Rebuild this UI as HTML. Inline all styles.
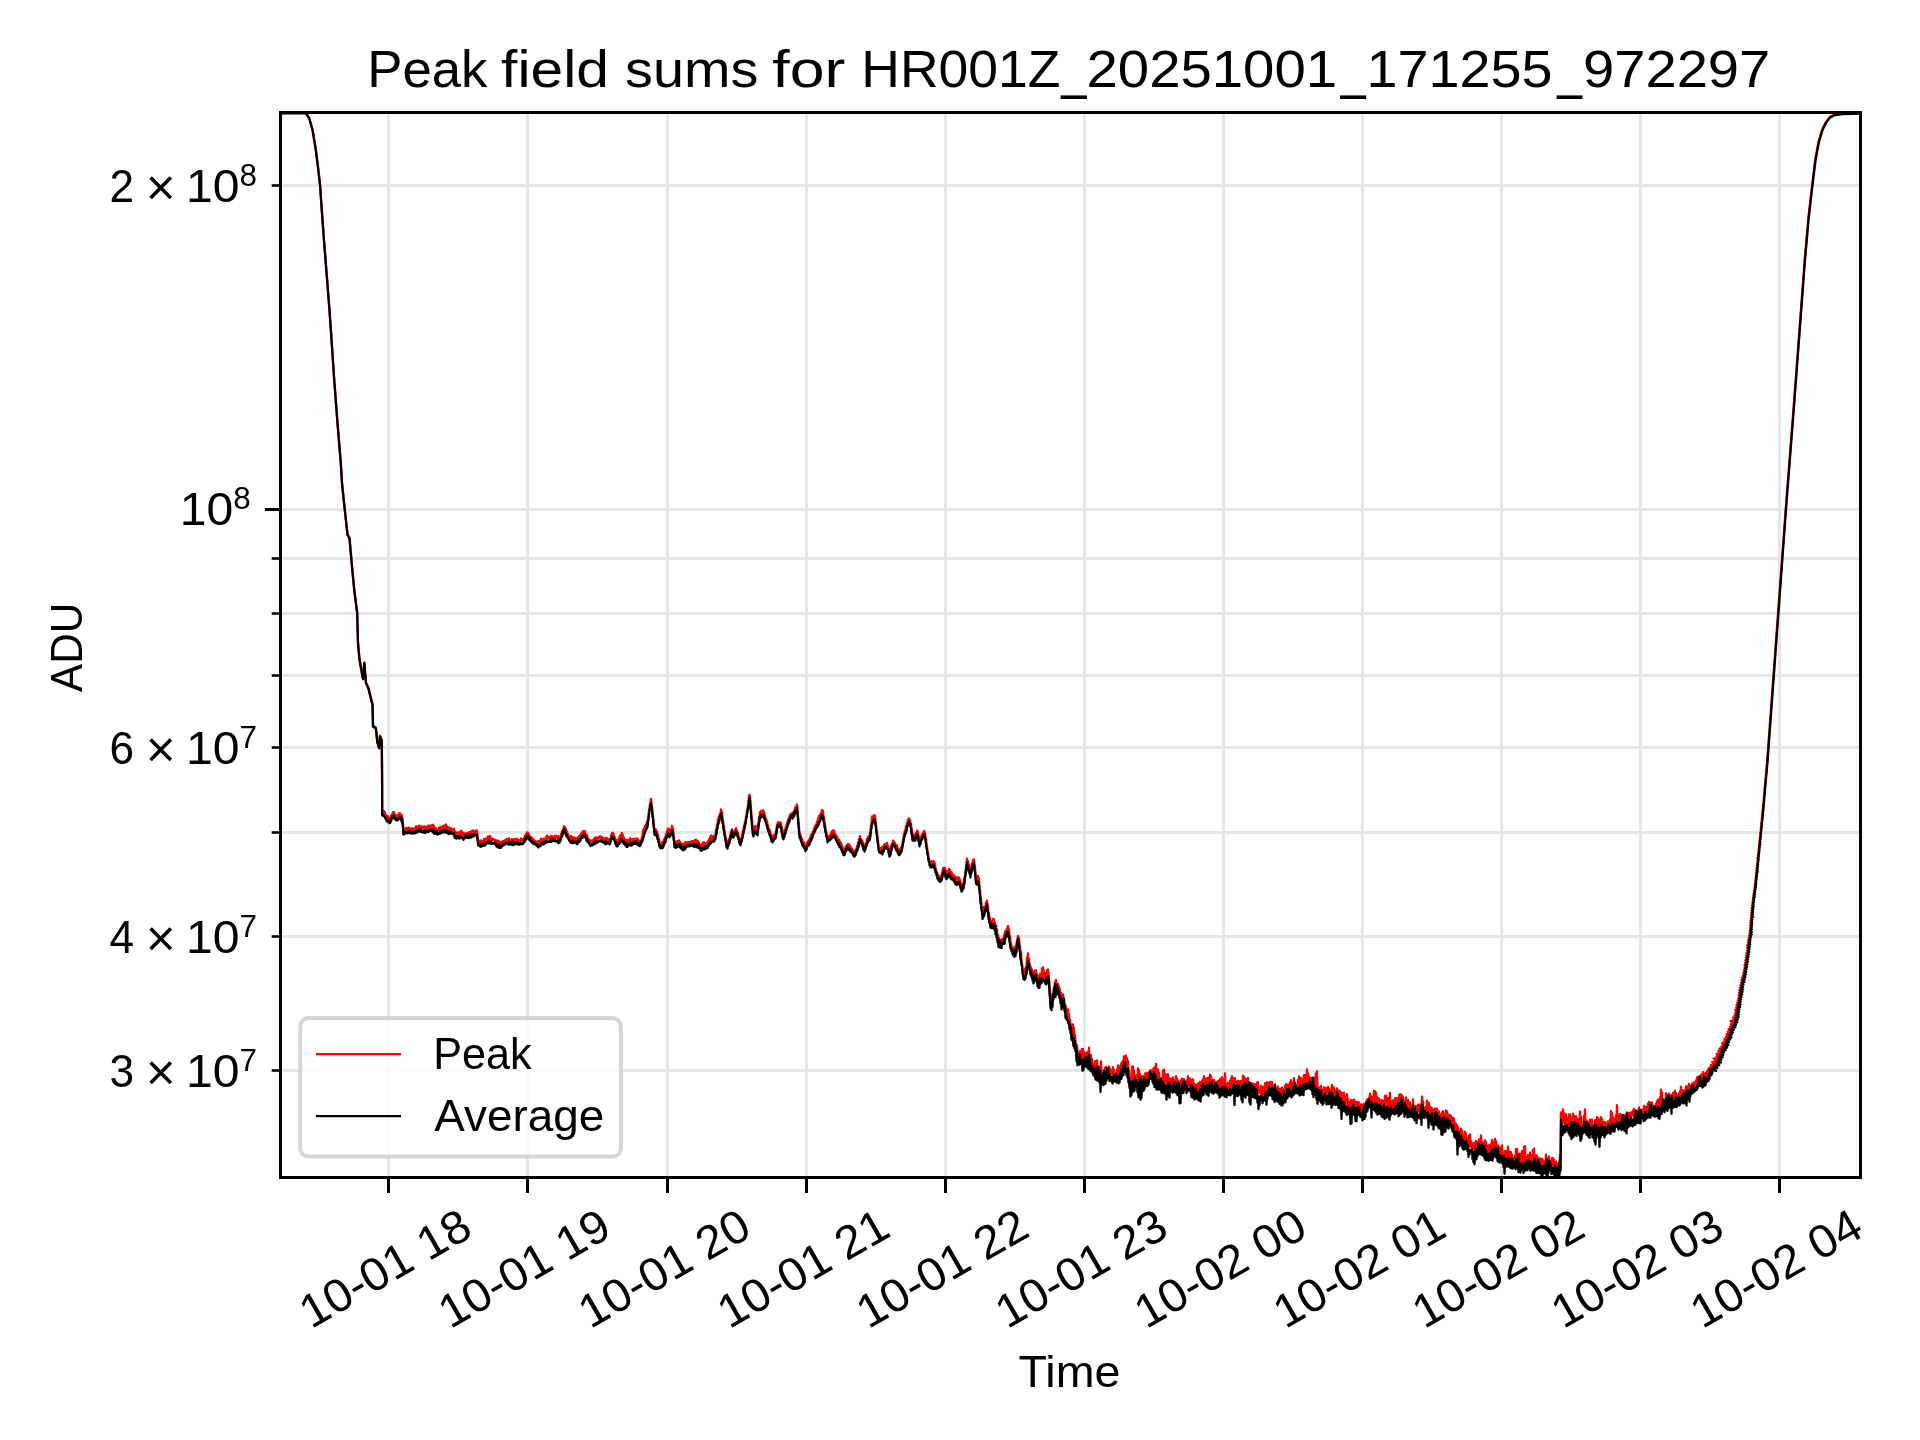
<!DOCTYPE html><html><head><meta charset="utf-8"><title>Peak field sums</title>
<style>html,body{margin:0;padding:0;background:#fff}svg{display:block;will-change:transform}text{font-family:"Liberation Sans",sans-serif;fill:#000}</style></head><body>
<svg width="1920" height="1440" viewBox="0 0 1920 1440">
<rect width="1920" height="1440" fill="#fff"/>
<defs><clipPath id="ax"><rect x="280.5" y="112.5" width="1580.0" height="1065.0"/></clipPath></defs>
<g stroke="#e6e6e6" stroke-width="3" fill="none">
<path d="M388.5 112.5V1177.5"/>
<path d="M527.5 112.5V1177.5"/>
<path d="M667.5 112.5V1177.5"/>
<path d="M806.5 112.5V1177.5"/>
<path d="M945.5 112.5V1177.5"/>
<path d="M1084.5 112.5V1177.5"/>
<path d="M1223.5 112.5V1177.5"/>
<path d="M1362.5 112.5V1177.5"/>
<path d="M1501.5 112.5V1177.5"/>
<path d="M1640.5 112.5V1177.5"/>
<path d="M1779.5 112.5V1177.5"/>
<path d="M280.5 509.5H1860.5"/>
<path d="M280.5 185.5H1860.5"/>
<path d="M280.5 558.5H1860.5"/>
<path d="M280.5 613.5H1860.5"/>
<path d="M280.5 675.5H1860.5"/>
<path d="M280.5 747.5H1860.5"/>
<path d="M280.5 832.5H1860.5"/>
<path d="M280.5 936.5H1860.5"/>
<path d="M280.5 1070.5H1860.5"/>
</g>
<g clip-path="url(#ax)" fill="none" stroke-linejoin="round" stroke-linecap="butt" stroke-width="2.3">
<path stroke="#ff0000" d="M280.5 112.7L305.8 112.7L309.2 117.7L312.5 129.4L315.8 149.4L318.3 169.4L320.0 184.4L322.0 212.7L324.2 242.7L326.7 274.4L329.2 306.1L331.2 334.4L334.2 379.4L337.5 422.7L340.8 462.7L342.0 482.7L344.7 508.6L347.5 534.3L349.5 537.6L351.7 562.6L354.2 589.3L357.2 612.5L358.0 642.5L359.5 659.2L363.0 678.4L364.3 662.5L366.0 682.5L368.3 687.4L372.5 704.1L373.0 725.8L375.8 727.4L377.5 742.3L379.2 747.3L380.0 735.7L381.8 739.8L382.1 778.9L382.2 814.4L383.0 812.6L383.5 812.8L384.0 811.1L384.5 813.6L385.0 812.6L385.5 815.4L386.0 815.2L386.5 816.2L387.0 816.1L387.5 818.3L388.0 816.3L388.5 818.4L389.0 817.7L389.5 819.9L390.0 819.0L390.5 818.7L391.0 815.6L391.5 816.2L392.0 814.8L392.5 814.2L393.0 812.2L393.5 813.5L394.0 812.3L394.5 815.5L395.0 814.2L395.5 817.1L396.0 815.3L396.5 818.5L397.0 816.2L397.5 817.6L398.0 815.1L398.5 815.7L399.0 813.3L399.5 815.2L400.0 813.1L400.5 815.4L401.0 815.2L401.5 816.3L402.0 815.3L402.5 820.3L403.0 823.8L403.5 831.6L404.0 828.8L404.5 830.2L405.0 828.8L405.5 829.9L406.0 828.1L406.5 829.1L407.0 828.3L407.5 830.0L408.0 828.0L408.5 829.8L409.0 827.7L409.5 829.9L410.0 828.6L410.5 829.7L411.0 829.0L411.5 829.7L412.0 828.1L412.5 830.5L413.0 828.6L413.5 830.2L414.0 828.9L414.5 829.7L415.0 828.2L415.5 829.7L416.0 826.3L416.5 829.1L417.0 826.8L417.5 828.5L418.0 826.5L418.5 829.0L419.0 825.7L419.5 828.1L420.0 826.0L420.5 828.0L421.0 826.8L421.5 828.1L422.0 826.7L422.5 828.0L423.0 827.2L423.5 828.4L424.0 826.2L424.5 829.4L425.0 827.7L425.5 829.4L426.0 826.9L426.5 829.1L427.0 826.6L427.5 828.5L428.0 825.6L428.5 828.3L429.0 825.7L429.5 828.4L430.0 826.0L430.5 827.8L431.0 826.2L431.5 827.7L432.0 824.9L432.5 828.2L433.0 824.9L433.5 828.9L434.0 826.1L434.5 829.4L435.0 827.9L435.5 830.5L436.0 828.4L436.5 830.4L437.0 829.8L437.5 830.4L438.0 829.1L438.5 830.0L439.0 827.7L439.5 829.8L440.0 827.5L440.5 830.3L441.0 826.9L441.5 829.9L442.0 828.0L442.5 830.4L443.0 826.2L443.5 828.8L444.0 825.4L444.5 829.1L445.0 825.9L445.5 828.5L446.0 824.3L446.5 828.7L447.0 826.2L447.5 829.8L448.0 827.5L448.5 829.2L449.0 827.4L449.5 829.5L450.0 828.5L450.5 829.4L451.0 828.3L451.5 830.0L452.0 829.2L452.5 830.8L453.0 829.4L453.5 831.3L454.0 828.8L454.5 832.6L455.0 831.6L455.5 834.3L456.0 832.3L456.5 833.9L457.0 832.8L457.5 834.8L458.0 832.3L458.5 834.4L459.0 832.7L459.5 835.7L460.0 831.9L460.5 835.2L461.0 830.7L461.5 835.8L462.0 831.6L462.5 835.5L463.0 832.9L463.5 835.0L464.0 833.3L464.5 835.6L465.0 834.1L465.5 835.5L466.0 833.4L466.5 834.3L467.0 833.0L467.5 834.0L468.0 833.5L468.5 834.8L469.0 832.2L469.5 833.5L470.0 832.3L470.5 832.8L471.0 831.8L471.5 832.9L472.0 831.0L472.5 832.5L473.0 830.4L473.5 832.0L474.0 831.4L474.5 831.7L475.0 831.1L475.5 831.9L476.0 830.5L476.5 832.3L477.0 830.5L477.5 837.3L478.0 839.0L478.5 842.9L479.0 841.0L479.5 843.0L480.0 841.0L480.5 843.1L481.0 840.4L481.5 842.7L482.0 841.1L482.5 843.6L483.0 841.1L483.5 842.6L484.0 839.0L484.5 841.8L485.0 839.0L485.5 841.0L486.0 838.7L486.5 840.6L487.0 838.2L487.5 840.5L488.0 836.4L488.5 839.9L489.0 836.7L489.5 839.1L490.0 835.8L490.5 839.4L491.0 838.0L491.5 840.4L492.0 838.4L492.5 840.2L493.0 839.1L493.5 840.1L494.0 839.3L494.5 840.8L495.0 839.9L495.5 841.9L496.0 840.6L496.5 842.0L497.0 840.4L497.5 843.1L498.0 840.7L498.5 843.3L499.0 841.2L499.5 843.4L500.0 841.9L500.5 845.1L501.0 842.5L501.5 844.3L502.0 841.9L502.5 842.4L503.0 841.0L503.5 842.7L504.0 841.0L504.5 842.0L505.0 840.3L505.5 841.6L506.0 839.7L506.5 841.0L507.0 838.9L507.5 841.2L508.0 839.1L508.5 841.6L509.0 838.4L509.5 841.2L510.0 839.8L510.5 841.2L511.0 840.2L511.5 840.9L512.0 839.0L512.5 841.5L513.0 839.5L513.5 841.9L514.0 839.4L514.5 841.5L515.0 839.0L515.5 842.1L516.0 839.5L516.5 841.6L517.0 839.0L517.5 841.0L518.0 839.7L518.5 840.4L519.0 840.2L519.5 840.4L520.0 839.7L520.5 841.0L521.0 838.5L521.5 840.9L522.0 839.3L522.5 840.4L523.0 839.1L523.5 839.0L524.0 838.2L524.5 837.9L525.0 835.7L525.5 836.5L526.0 834.2L526.5 835.1L527.0 832.3L527.5 834.1L528.0 832.5L528.5 836.3L529.0 834.5L529.5 836.6L530.0 836.2L530.5 838.3L531.0 837.3L531.5 839.1L532.0 837.7L532.5 840.2L533.0 838.9L533.5 840.3L534.0 840.1L534.5 841.9L535.0 840.9L535.5 843.1L536.0 841.7L536.5 843.9L537.0 842.5L537.5 843.6L538.0 841.2L538.5 843.4L539.0 840.9L539.5 842.7L540.0 841.4L540.5 842.2L541.0 838.7L541.5 841.6L542.0 839.3L542.5 840.4L543.0 839.6L543.5 840.7L544.0 838.6L544.5 839.8L545.0 838.6L545.5 839.2L546.0 837.5L546.5 839.1L547.0 835.6L547.5 838.6L548.0 836.3L548.5 838.7L549.0 837.4L549.5 839.1L550.0 837.2L550.5 838.9L551.0 835.8L551.5 838.1L552.0 835.8L552.5 837.7L553.0 836.7L553.5 838.3L554.0 836.7L554.5 838.0L555.0 835.8L555.5 838.0L556.0 836.0L556.5 837.6L557.0 836.0L557.5 837.9L558.0 836.0L558.5 838.6L559.0 837.4L559.5 838.8L560.0 837.3L560.5 837.9L561.0 833.9L561.5 835.3L562.0 831.2L562.5 832.2L563.0 829.4L563.5 829.8L564.0 826.2L564.5 829.2L565.0 827.2L565.5 830.7L566.0 829.0L566.5 831.5L567.0 831.4L567.5 834.2L568.0 834.1L568.5 836.8L569.0 836.5L569.5 838.3L570.0 837.5L570.5 839.5L571.0 836.0L571.5 838.7L572.0 837.1L572.5 838.9L573.0 837.5L573.5 840.0L574.0 837.7L574.5 840.4L575.0 837.8L575.5 840.8L576.0 838.9L576.5 840.4L577.0 837.9L577.5 839.4L578.0 838.0L578.5 838.1L579.0 836.3L579.5 838.1L580.0 835.1L580.5 836.5L581.0 833.7L581.5 835.9L582.0 832.2L582.5 835.0L583.0 831.2L583.5 834.0L584.0 830.8L584.5 832.6L585.0 831.1L585.5 834.4L586.0 834.3L586.5 837.2L587.0 835.3L587.5 838.4L588.0 838.1L588.5 839.7L589.0 839.5L589.5 841.8L590.0 840.2L590.5 842.0L591.0 840.7L591.5 841.3L592.0 840.6L592.5 841.1L593.0 840.2L593.5 841.0L594.0 838.9L594.5 839.7L595.0 837.6L595.5 839.8L596.0 837.7L596.5 839.1L597.0 837.9L597.5 839.4L598.0 837.4L598.5 837.9L599.0 837.3L599.5 838.2L600.0 836.2L600.5 838.1L601.0 836.9L601.5 838.8L602.0 837.0L602.5 839.1L603.0 837.6L603.5 839.1L604.0 838.3L604.5 839.8L605.0 838.9L605.5 839.5L606.0 837.8L606.5 840.0L607.0 838.1L607.5 840.5L608.0 839.0L608.5 840.2L609.0 839.7L609.5 840.8L610.0 838.8L610.5 840.0L611.0 835.1L611.5 837.0L612.0 833.2L612.5 834.1L613.0 832.8L613.5 835.4L614.0 835.6L614.5 837.3L615.0 837.7L615.5 841.0L616.0 839.7L616.5 843.3L617.0 841.7L617.5 842.5L618.0 840.0L618.5 841.6L619.0 838.0L619.5 839.8L620.0 835.3L620.5 838.2L621.0 835.5L621.5 836.7L622.0 833.0L622.5 837.8L623.0 835.1L623.5 838.3L624.0 837.8L624.5 840.2L625.0 839.5L625.5 841.8L626.0 840.4L626.5 843.2L627.0 839.9L627.5 843.1L628.0 840.5L628.5 842.4L629.0 839.8L629.5 841.6L630.0 838.2L630.5 842.0L631.0 839.2L631.5 841.4L632.0 839.2L632.5 840.3L633.0 839.6L633.5 840.7L634.0 839.0L634.5 839.8L635.0 839.1L635.5 839.7L636.0 838.8L636.5 839.9L637.0 838.5L637.5 840.0L638.0 839.3L638.5 840.4L639.0 840.7L639.5 841.3L640.0 841.2L640.5 842.7L641.0 840.3L641.5 839.9L642.0 837.0L642.5 837.0L643.0 830.1L643.5 834.1L644.0 828.5L644.5 831.2L645.0 825.8L645.5 828.2L646.0 824.5L646.5 825.6L647.0 821.6L647.5 823.3L648.0 818.3L648.5 816.4L649.0 810.1L649.5 808.5L650.0 804.0L650.5 802.9L651.0 798.8L651.5 804.1L652.0 806.6L652.5 811.7L653.0 815.8L653.5 822.6L654.0 825.4L654.5 831.3L655.0 829.8L655.5 831.3L656.0 829.5L656.5 832.7L657.0 831.5L657.5 836.1L658.0 834.9L658.5 839.0L659.0 839.2L659.5 843.6L660.0 843.6L660.5 845.1L661.0 843.6L661.5 844.4L662.0 842.3L662.5 844.2L663.0 841.8L663.5 842.9L664.0 839.3L664.5 840.3L665.0 837.6L665.5 837.8L666.0 834.5L666.5 836.0L667.0 831.1L667.5 832.2L668.0 828.6L668.5 833.1L669.0 828.9L669.5 833.7L670.0 830.9L670.5 832.2L671.0 829.6L671.5 829.6L672.0 825.9L672.5 827.2L673.0 829.6L673.5 835.8L674.0 836.9L674.5 843.5L675.0 842.6L675.5 843.1L676.0 841.8L676.5 843.7L677.0 841.5L677.5 843.3L678.0 841.0L678.5 842.6L679.0 840.3L679.5 842.7L680.0 842.0L680.5 844.4L681.0 843.5L681.5 845.8L682.0 843.8L682.5 846.2L683.0 844.4L683.5 845.5L684.0 843.7L684.5 845.2L685.0 842.2L685.5 845.1L686.0 842.6L686.5 844.6L687.0 842.6L687.5 843.9L688.0 841.9L688.5 844.1L689.0 842.1L689.5 844.4L690.0 841.8L690.5 843.9L691.0 841.8L691.5 842.5L692.0 841.0L692.5 842.0L693.0 841.1L693.5 842.2L694.0 840.9L694.5 842.1L695.0 839.9L695.5 844.0L696.0 839.7L696.5 843.8L697.0 840.8L697.5 843.7L698.0 840.8L698.5 844.6L699.0 842.9L699.5 844.9L700.0 844.8L700.5 846.5L701.0 845.2L701.5 847.6L702.0 844.2L702.5 846.8L703.0 843.0L703.5 845.7L704.0 842.1L704.5 845.6L705.0 842.8L705.5 845.1L706.0 843.2L706.5 844.8L707.0 843.1L707.5 844.0L708.0 841.1L708.5 842.7L709.0 839.6L709.5 840.4L710.0 837.5L710.5 839.5L711.0 835.5L711.5 839.1L712.0 836.6L712.5 838.2L713.0 836.4L713.5 837.4L714.0 836.3L714.5 837.6L715.0 835.5L715.5 835.0L716.0 829.6L716.5 829.6L717.0 824.8L717.5 824.1L718.0 819.7L718.5 819.4L719.0 816.1L719.5 816.4L720.0 814.1L720.5 814.1L721.0 809.5L721.5 813.9L722.0 811.4L722.5 819.7L723.0 819.8L723.5 825.8L724.0 826.2L724.5 831.9L725.0 832.8L725.5 837.6L726.0 838.3L726.5 844.1L727.0 843.5L727.5 844.4L728.0 841.1L728.5 841.6L729.0 839.2L729.5 838.9L730.0 836.0L730.5 834.9L731.0 831.8L731.5 831.1L732.0 829.3L732.5 832.8L733.0 834.2L733.5 834.3L734.0 831.9L734.5 832.3L735.0 830.0L735.5 831.3L736.0 828.2L736.5 831.0L737.0 830.6L737.5 834.1L738.0 833.0L738.5 836.6L739.0 836.8L739.5 838.9L740.0 839.6L740.5 842.3L741.0 839.4L741.5 839.3L742.0 836.1L742.5 834.6L743.0 830.7L743.5 829.9L744.0 825.7L744.5 826.2L745.0 821.7L745.5 821.8L746.0 816.5L746.5 816.3L747.0 810.0L747.5 809.5L748.0 805.1L748.5 802.9L749.0 795.8L749.5 794.8L750.0 796.5L750.5 805.2L751.0 807.8L751.5 817.8L752.0 819.1L752.5 827.3L753.0 829.6L753.5 832.6L754.0 829.8L754.5 830.6L755.0 826.2L755.5 830.2L756.0 826.6L756.5 830.1L757.0 826.8L757.5 830.6L758.0 823.7L758.5 825.0L759.0 817.5L759.5 818.2L760.0 812.1L760.5 814.9L761.0 811.0L761.5 814.2L762.0 811.1L762.5 813.6L763.0 810.1L763.5 813.1L764.0 811.7L764.5 815.5L765.0 815.4L765.5 818.9L766.0 818.8L766.5 821.5L767.0 821.2L767.5 825.5L768.0 825.6L768.5 829.1L769.0 828.7L769.5 831.4L770.0 830.4L770.5 835.0L771.0 834.3L771.5 838.5L772.0 837.9L772.5 838.8L773.0 835.6L773.5 837.7L774.0 834.8L774.5 836.7L775.0 834.1L775.5 835.3L776.0 831.2L776.5 829.8L777.0 824.9L777.5 823.6L778.0 822.2L778.5 823.8L779.0 822.9L779.5 823.7L780.0 822.5L780.5 824.2L781.0 822.5L781.5 827.8L782.0 827.5L782.5 832.4L783.0 832.8L783.5 834.5L784.0 831.4L784.5 832.3L785.0 829.9L785.5 828.7L786.0 826.5L786.5 826.2L787.0 823.2L787.5 823.4L788.0 820.0L788.5 820.5L789.0 817.7L789.5 817.9L790.0 814.7L790.5 815.1L791.0 813.6L791.5 814.1L792.0 813.3L792.5 813.0L793.0 812.1L793.5 813.7L794.0 811.2L794.5 810.7L795.0 808.0L795.5 809.9L796.0 806.5L796.5 807.9L797.0 804.3L797.5 810.2L798.0 816.1L798.5 822.4L799.0 827.6L799.5 833.5L800.0 833.8L800.5 836.3L801.0 836.6L801.5 839.3L802.0 838.9L802.5 841.6L803.0 842.1L803.5 843.3L804.0 842.5L804.5 845.7L805.0 844.5L805.5 846.9L806.0 845.1L806.5 845.6L807.0 842.4L807.5 844.8L808.0 841.3L808.5 842.3L809.0 839.8L809.5 840.8L810.0 837.8L810.5 838.2L811.0 834.9L811.5 836.5L812.0 833.6L812.5 834.1L813.0 831.5L813.5 831.4L814.0 828.5L814.5 828.6L815.0 826.0L815.5 826.0L816.0 824.7L816.5 824.8L817.0 821.7L817.5 822.8L818.0 818.7L818.5 821.2L819.0 815.9L819.5 818.3L820.0 814.8L820.5 816.6L821.0 812.7L821.5 814.5L822.0 809.9L822.5 811.1L823.0 811.0L823.5 817.5L824.0 817.3L824.5 822.9L825.0 824.2L825.5 829.6L826.0 830.4L826.5 834.1L827.0 834.0L827.5 839.0L828.0 836.3L828.5 837.4L829.0 836.4L829.5 836.8L830.0 835.2L830.5 836.5L831.0 832.9L831.5 836.1L832.0 831.1L832.5 835.0L833.0 830.4L833.5 832.1L834.0 830.5L834.5 834.0L835.0 833.2L835.5 836.1L836.0 835.3L836.5 839.3L837.0 836.4L837.5 840.3L838.0 838.9L838.5 841.6L839.0 839.9L839.5 842.6L840.0 841.7L840.5 844.4L841.0 842.9L841.5 847.1L842.0 845.7L842.5 849.4L843.0 848.2L843.5 851.7L844.0 850.3L844.5 850.7L845.0 848.3L845.5 849.9L846.0 846.2L846.5 847.6L847.0 844.8L847.5 845.7L848.0 843.9L848.5 847.6L849.0 844.3L849.5 848.0L850.0 845.8L850.5 848.4L851.0 847.6L851.5 849.0L852.0 848.6L852.5 850.8L853.0 850.6L853.5 852.1L854.0 850.9L854.5 853.1L855.0 851.7L855.5 852.0L856.0 849.1L856.5 849.3L857.0 846.1L857.5 846.7L858.0 842.9L858.5 843.4L859.0 839.0L859.5 839.4L860.0 836.1L860.5 839.3L861.0 839.1L861.5 840.7L862.0 840.1L862.5 843.2L863.0 842.7L863.5 846.7L864.0 844.6L864.5 849.2L865.0 846.2L865.5 846.6L866.0 843.5L866.5 843.1L867.0 838.8L867.5 840.2L868.0 836.8L868.5 838.1L869.0 835.8L869.5 837.2L870.0 832.8L870.5 832.3L871.0 825.4L871.5 824.1L872.0 816.6L872.5 819.8L873.0 816.1L873.5 819.6L874.0 815.2L874.5 817.2L875.0 815.7L875.5 822.0L876.0 823.8L876.5 830.4L877.0 832.1L877.5 838.6L878.0 841.0L878.5 846.3L879.0 847.6L879.5 848.3L880.0 848.5L880.5 848.7L881.0 848.0L881.5 850.1L882.0 846.8L882.5 851.1L883.0 846.9L883.5 848.3L884.0 845.0L884.5 846.0L885.0 844.1L885.5 845.0L886.0 843.8L886.5 845.9L887.0 843.0L887.5 847.0L888.0 845.7L888.5 850.2L889.0 848.8L889.5 853.6L890.0 849.8L890.5 851.4L891.0 845.6L891.5 848.0L892.0 844.2L892.5 843.9L893.0 840.6L893.5 842.1L894.0 841.6L894.5 843.3L895.0 843.0L895.5 845.3L896.0 844.7L896.5 846.0L897.0 845.4L897.5 848.6L898.0 848.8L898.5 850.7L899.0 850.3L899.5 852.2L900.0 849.1L900.5 849.4L901.0 847.4L901.5 848.7L902.0 846.1L902.5 844.4L903.0 840.4L903.5 838.2L904.0 834.3L904.5 832.6L905.0 830.3L905.5 830.6L906.0 826.2L906.5 827.0L907.0 822.6L907.5 824.0L908.0 819.4L908.5 820.1L909.0 818.3L909.5 821.4L910.0 820.3L910.5 822.6L911.0 824.1L911.5 829.7L912.0 829.6L912.5 836.7L913.0 834.5L913.5 836.4L914.0 834.9L914.5 838.0L915.0 835.7L915.5 837.1L916.0 832.8L916.5 833.5L917.0 830.6L917.5 831.2L918.0 832.0L918.5 836.5L919.0 837.4L919.5 841.3L920.0 839.2L920.5 839.2L921.0 837.1L921.5 836.3L922.0 834.2L922.5 834.4L923.0 833.2L923.5 832.4L924.0 830.9L924.5 831.5L925.0 833.5L925.5 838.4L926.0 838.5L926.5 844.9L927.0 846.3L927.5 851.6L928.0 852.5L928.5 857.6L929.0 858.2L929.5 861.8L930.0 862.9L930.5 862.7L931.0 862.4L931.5 863.7L932.0 861.1L932.5 862.7L933.0 861.6L933.5 862.6L934.0 861.5L934.5 864.9L935.0 863.9L935.5 869.1L936.0 869.3L936.5 872.4L937.0 872.5L937.5 875.1L938.0 875.0L938.5 877.4L939.0 876.2L939.5 878.3L940.0 877.1L940.5 878.4L941.0 876.0L941.5 877.3L942.0 873.3L942.5 873.2L943.0 868.1L943.5 868.8L944.0 867.9L944.5 871.5L945.0 868.2L945.5 872.6L946.0 871.1L946.5 873.1L947.0 872.6L947.5 873.3L948.0 870.9L948.5 872.5L949.0 869.0L949.5 873.0L950.0 870.1L950.5 874.5L951.0 871.9L951.5 874.7L952.0 873.2L952.5 876.1L953.0 874.9L953.5 877.7L954.0 875.2L954.5 878.3L955.0 876.6L955.5 880.3L956.0 877.3L956.5 881.4L957.0 877.6L957.5 880.3L958.0 877.6L958.5 879.3L959.0 877.5L959.5 879.8L960.0 879.4L960.5 884.6L961.0 883.3L961.5 888.8L962.0 886.1L962.5 887.9L963.0 883.3L963.5 884.0L964.0 879.7L964.5 881.2L965.0 875.2L965.5 872.8L966.0 867.5L966.5 864.2L967.0 858.6L967.5 864.0L968.0 860.8L968.5 865.5L969.0 864.9L969.5 870.1L970.0 868.8L970.5 872.8L971.0 868.9L971.5 868.6L972.0 863.6L972.5 866.4L973.0 859.9L973.5 861.0L974.0 859.5L974.5 865.4L975.0 867.3L975.5 874.5L976.0 877.1L976.5 882.4L977.0 879.0L977.5 881.4L978.0 876.0L978.5 879.9L979.0 878.5L979.5 887.8L980.0 889.8L980.5 898.4L981.0 898.7L981.5 906.6L982.0 908.3L982.5 914.7L983.0 909.6L983.5 912.1L984.0 907.0L984.5 909.8L985.0 906.8L985.5 909.1L986.0 902.6L986.5 905.3L987.0 900.6L987.5 907.5L988.0 906.3L988.5 915.2L989.0 913.0L989.5 918.5L990.0 917.9L990.5 922.3L991.0 921.0L991.5 923.6L992.0 921.0L992.5 922.7L993.0 918.8L993.5 923.3L994.0 919.5L994.5 923.0L995.0 923.0L995.5 928.3L996.0 925.1L996.5 931.9L997.0 929.4L997.5 937.7L998.0 935.4L998.5 939.3L999.0 937.8L999.5 939.9L1000.0 940.2L1000.5 941.8L1001.0 940.2L1001.5 944.5L1002.0 939.4L1002.5 942.5L1003.0 938.9L1003.5 941.2L1004.0 935.4L1004.5 937.8L1005.0 931.5L1005.5 935.5L1006.0 930.4L1006.5 933.2L1007.0 928.6L1007.5 929.1L1008.0 925.8L1008.5 929.4L1009.0 929.1L1009.5 936.9L1010.0 936.2L1010.5 943.2L1011.0 943.1L1011.5 946.7L1012.0 947.2L1012.5 948.7L1013.0 948.8L1013.5 950.4L1014.0 947.4L1014.5 950.0L1015.0 947.1L1015.5 950.5L1016.0 946.0L1016.5 945.7L1017.0 940.0L1017.5 941.7L1018.0 936.0L1018.5 937.3L1019.0 938.6L1019.5 944.7L1020.0 946.4L1020.5 953.8L1021.0 951.8L1021.5 962.1L1022.0 963.4L1022.5 968.7L1023.0 970.9L1023.5 972.0L1024.0 970.3L1024.5 973.4L1025.0 968.7L1025.5 973.1L1026.0 966.8L1026.5 969.1L1027.0 957.5L1027.5 962.0L1028.0 953.4L1028.5 965.7L1029.0 958.8L1029.5 967.5L1030.0 964.3L1030.5 968.8L1031.0 967.5L1031.5 971.8L1032.0 969.5L1032.5 975.4L1033.0 971.5L1033.5 979.3L1034.0 975.1L1034.5 977.5L1035.0 970.7L1035.5 975.2L1036.0 970.2L1036.5 975.7L1037.0 974.4L1037.5 980.0L1038.0 975.8L1038.5 984.9L1039.0 976.0L1039.5 981.2L1040.0 974.0L1040.5 980.2L1041.0 975.2L1041.5 977.5L1042.0 968.5L1042.5 976.0L1043.0 967.4L1043.5 977.4L1044.0 970.6L1044.5 978.4L1045.0 972.7L1045.5 980.2L1046.0 975.6L1046.5 981.2L1047.0 970.4L1047.5 977.4L1048.0 969.5L1048.5 973.0L1049.0 978.3L1049.5 987.1L1050.0 991.0L1050.5 996.9L1051.0 998.7L1051.5 1004.3L1052.0 1001.0L1052.5 1000.1L1053.0 993.8L1053.5 993.9L1054.0 987.6L1054.5 988.2L1055.0 982.2L1055.5 985.0L1056.0 979.8L1056.5 985.8L1057.0 985.1L1057.5 988.6L1058.0 983.8L1058.5 992.0L1059.0 986.6L1059.5 993.9L1060.0 989.1L1060.5 998.7L1061.0 992.8L1061.5 998.6L1062.0 995.2L1062.5 998.9L1063.0 994.3L1063.5 1001.6L1064.0 998.4L1064.5 1008.8L1065.0 1004.3L1065.5 1011.3L1066.0 1006.2L1066.5 1013.2L1067.0 1009.9L1067.5 1017.8L1068.0 1009.4L1068.5 1021.8L1069.0 1014.1L1069.5 1025.3L1070.0 1019.8L1070.5 1028.5L1071.0 1024.5L1071.5 1033.8L1072.0 1027.4L1072.5 1035.4L1073.0 1024.3L1073.5 1038.9L1074.0 1027.9L1074.5 1041.2L1075.0 1035.0L1075.5 1044.2L1076.0 1043.6L1076.5 1052.3L1077.0 1045.2L1077.5 1055.6L1078.0 1052.3L1078.5 1058.3L1079.0 1052.4L1079.5 1060.5L1080.0 1051.1L1080.5 1061.6L1081.0 1053.3L1081.5 1062.9L1082.0 1049.0L1082.5 1063.4L1083.0 1049.2L1083.5 1060.9L1084.0 1052.0L1084.5 1063.7L1085.0 1054.9L1085.5 1060.4L1086.0 1053.4L1086.5 1062.7L1087.0 1052.1L1087.5 1062.8L1088.0 1052.5L1088.5 1061.7L1089.0 1047.7L1089.5 1064.3L1090.0 1055.0L1090.5 1065.2L1091.0 1055.2L1091.5 1069.4L1092.0 1058.9L1092.5 1071.3L1093.0 1064.1L1093.5 1069.3L1094.0 1065.0L1094.5 1071.9L1095.0 1061.1L1095.5 1067.8L1096.0 1062.7L1096.5 1070.0L1097.0 1060.5L1097.5 1077.7L1098.0 1068.2L1098.5 1076.6L1099.0 1066.6L1099.5 1075.1L1100.0 1066.7L1100.5 1073.5L1101.0 1061.5L1101.5 1074.3L1102.0 1072.0L1102.5 1078.8L1103.0 1072.8L1103.5 1076.6L1104.0 1070.3L1104.5 1072.5L1105.0 1067.6L1105.5 1073.7L1106.0 1067.0L1106.5 1079.1L1107.0 1068.7L1107.5 1073.3L1108.0 1071.3L1108.5 1074.5L1109.0 1066.4L1109.5 1075.7L1110.0 1068.6L1110.5 1073.2L1111.0 1072.2L1111.5 1073.1L1112.0 1070.1L1112.5 1075.0L1113.0 1067.2L1113.5 1075.0L1114.0 1069.3L1114.5 1077.9L1115.0 1072.8L1115.5 1073.9L1116.0 1073.6L1116.5 1076.0L1117.0 1069.6L1117.5 1077.3L1118.0 1065.5L1118.5 1075.2L1119.0 1066.3L1119.5 1074.5L1120.0 1068.4L1120.5 1076.9L1121.0 1064.0L1121.5 1072.9L1122.0 1062.1L1122.5 1071.9L1123.0 1060.6L1123.5 1070.0L1124.0 1056.4L1124.5 1064.2L1125.0 1056.5L1125.5 1063.8L1126.0 1055.6L1126.5 1066.4L1127.0 1058.1L1127.5 1067.0L1128.0 1061.0L1128.5 1072.5L1129.0 1070.8L1129.5 1079.5L1130.0 1077.6L1130.5 1085.0L1131.0 1078.9L1131.5 1082.1L1132.0 1067.0L1132.5 1080.1L1133.0 1066.3L1133.5 1079.9L1134.0 1070.7L1134.5 1079.2L1135.0 1075.7L1135.5 1081.8L1136.0 1075.6L1136.5 1082.0L1137.0 1075.5L1137.5 1079.5L1138.0 1068.4L1138.5 1081.4L1139.0 1070.4L1139.5 1084.0L1140.0 1073.8L1140.5 1084.1L1141.0 1076.3L1141.5 1084.0L1142.0 1076.2L1142.5 1084.6L1143.0 1077.5L1143.5 1084.7L1144.0 1076.0L1144.5 1081.8L1145.0 1073.4L1145.5 1080.7L1146.0 1074.2L1146.5 1078.7L1147.0 1072.8L1147.5 1077.8L1148.0 1073.9L1148.5 1079.1L1149.0 1072.3L1149.5 1076.4L1150.0 1070.3L1150.5 1073.3L1151.0 1071.1L1151.5 1072.4L1152.0 1069.9L1152.5 1074.7L1153.0 1069.1L1153.5 1074.6L1154.0 1067.9L1154.5 1077.2L1155.0 1067.1L1155.5 1076.3L1156.0 1063.8L1156.5 1081.4L1157.0 1071.6L1157.5 1084.4L1158.0 1069.4L1158.5 1082.7L1159.0 1072.6L1159.5 1081.0L1160.0 1079.4L1160.5 1084.1L1161.0 1078.4L1161.5 1088.8L1162.0 1079.2L1162.5 1085.4L1163.0 1070.3L1163.5 1087.6L1164.0 1069.7L1164.5 1083.3L1165.0 1073.9L1165.5 1082.5L1166.0 1078.6L1166.5 1088.2L1167.0 1074.5L1167.5 1085.9L1168.0 1074.5L1168.5 1085.6L1169.0 1078.0L1169.5 1087.6L1170.0 1080.4L1170.5 1085.7L1171.0 1078.7L1171.5 1084.0L1172.0 1078.9L1172.5 1083.9L1173.0 1077.5L1173.5 1085.8L1174.0 1080.3L1174.5 1087.8L1175.0 1081.7L1175.5 1087.8L1176.0 1076.2L1176.5 1086.3L1177.0 1078.5L1177.5 1084.8L1178.0 1080.6L1178.5 1088.5L1179.0 1081.6L1179.5 1089.0L1180.0 1083.8L1180.5 1089.1L1181.0 1080.1L1181.5 1088.3L1182.0 1078.6L1182.5 1088.2L1183.0 1082.6L1183.5 1085.1L1184.0 1079.2L1184.5 1082.4L1185.0 1081.2L1185.5 1085.0L1186.0 1082.1L1186.5 1085.3L1187.0 1080.5L1187.5 1083.6L1188.0 1076.2L1188.5 1085.7L1189.0 1079.3L1189.5 1086.6L1190.0 1078.7L1190.5 1087.5L1191.0 1079.9L1191.5 1086.5L1192.0 1080.2L1192.5 1087.6L1193.0 1079.1L1193.5 1086.5L1194.0 1084.4L1194.5 1089.7L1195.0 1084.5L1195.5 1096.3L1196.0 1087.7L1196.5 1092.5L1197.0 1084.3L1197.5 1092.0L1198.0 1083.3L1198.5 1095.0L1199.0 1083.2L1199.5 1095.9L1200.0 1081.9L1200.5 1089.4L1201.0 1082.2L1201.5 1087.4L1202.0 1081.0L1202.5 1089.7L1203.0 1079.1L1203.5 1088.7L1204.0 1076.2L1204.5 1084.9L1205.0 1078.4L1205.5 1083.5L1206.0 1079.0L1206.5 1086.3L1207.0 1078.4L1207.5 1087.2L1208.0 1077.9L1208.5 1087.7L1209.0 1079.2L1209.5 1083.8L1210.0 1074.6L1210.5 1085.4L1211.0 1076.1L1211.5 1085.4L1212.0 1079.9L1212.5 1083.7L1213.0 1081.5L1213.5 1086.1L1214.0 1079.8L1214.5 1085.7L1215.0 1082.3L1215.5 1087.5L1216.0 1082.1L1216.5 1088.0L1217.0 1082.3L1217.5 1087.9L1218.0 1081.0L1218.5 1090.0L1219.0 1081.0L1219.5 1087.9L1220.0 1079.0L1220.5 1087.8L1221.0 1083.3L1221.5 1088.6L1222.0 1077.1L1222.5 1089.0L1223.0 1079.2L1223.5 1091.8L1224.0 1082.4L1224.5 1089.3L1225.0 1073.4L1225.5 1090.6L1226.0 1085.4L1226.5 1091.0L1227.0 1083.8L1227.5 1090.3L1228.0 1082.9L1228.5 1089.6L1229.0 1084.0L1229.5 1090.0L1230.0 1080.8L1230.5 1088.5L1231.0 1078.3L1231.5 1091.9L1232.0 1076.2L1232.5 1089.8L1233.0 1082.4L1233.5 1088.6L1234.0 1078.1L1234.5 1091.9L1235.0 1078.2L1235.5 1091.5L1236.0 1084.9L1236.5 1088.0L1237.0 1081.6L1237.5 1091.1L1238.0 1081.0L1238.5 1086.5L1239.0 1084.7L1239.5 1090.0L1240.0 1081.0L1240.5 1088.8L1241.0 1082.7L1241.5 1085.5L1242.0 1080.6L1242.5 1088.0L1243.0 1075.6L1243.5 1088.8L1244.0 1076.7L1244.5 1086.3L1245.0 1078.4L1245.5 1086.0L1246.0 1080.3L1246.5 1089.7L1247.0 1078.9L1247.5 1090.9L1248.0 1078.0L1248.5 1092.8L1249.0 1082.2L1249.5 1093.0L1250.0 1083.4L1250.5 1089.8L1251.0 1083.2L1251.5 1091.5L1252.0 1083.4L1252.5 1089.0L1253.0 1083.6L1253.5 1091.0L1254.0 1086.7L1254.5 1091.0L1255.0 1084.1L1255.5 1091.9L1256.0 1084.1L1256.5 1092.6L1257.0 1082.7L1257.5 1091.2L1258.0 1082.2L1258.5 1090.8L1259.0 1090.0L1259.5 1093.0L1260.0 1089.8L1260.5 1093.5L1261.0 1085.7L1261.5 1095.0L1262.0 1086.8L1262.5 1096.0L1263.0 1089.6L1263.5 1093.2L1264.0 1086.7L1264.5 1093.5L1265.0 1083.2L1265.5 1089.8L1266.0 1083.2L1266.5 1091.0L1267.0 1082.1L1267.5 1091.8L1268.0 1083.5L1268.5 1092.1L1269.0 1082.9L1269.5 1088.1L1270.0 1081.9L1270.5 1088.7L1271.0 1082.8L1271.5 1086.6L1272.0 1082.1L1272.5 1090.5L1273.0 1085.4L1273.5 1094.8L1274.0 1088.5L1274.5 1094.1L1275.0 1084.4L1275.5 1090.8L1276.0 1088.1L1276.5 1093.4L1277.0 1090.8L1277.5 1093.1L1278.0 1086.7L1278.5 1094.6L1279.0 1089.3L1279.5 1097.1L1280.0 1088.8L1280.5 1098.8L1281.0 1088.5L1281.5 1098.3L1282.0 1087.6L1282.5 1096.0L1283.0 1089.6L1283.5 1098.4L1284.0 1089.5L1284.5 1092.9L1285.0 1085.6L1285.5 1096.6L1286.0 1084.1L1286.5 1095.7L1287.0 1084.6L1287.5 1090.4L1288.0 1088.5L1288.5 1089.5L1289.0 1084.4L1289.5 1091.5L1290.0 1082.4L1290.5 1092.5L1291.0 1080.2L1291.5 1090.8L1292.0 1083.9L1292.5 1088.0L1293.0 1082.7L1293.5 1088.1L1294.0 1078.2L1294.5 1091.6L1295.0 1084.5L1295.5 1089.8L1296.0 1085.5L1296.5 1086.1L1297.0 1085.2L1297.5 1088.3L1298.0 1079.8L1298.5 1087.9L1299.0 1076.5L1299.5 1086.1L1300.0 1077.9L1300.5 1089.5L1301.0 1078.1L1301.5 1090.0L1302.0 1080.3L1302.5 1085.1L1303.0 1079.4L1303.5 1082.6L1304.0 1075.1L1304.5 1084.0L1305.0 1075.1L1305.5 1084.2L1306.0 1076.1L1306.5 1081.0L1307.0 1069.5L1307.5 1080.8L1308.0 1073.5L1308.5 1083.5L1309.0 1076.1L1309.5 1085.9L1310.0 1078.6L1310.5 1086.1L1311.0 1078.0L1311.5 1087.7L1312.0 1080.2L1312.5 1086.0L1313.0 1079.8L1313.5 1084.0L1314.0 1078.0L1314.5 1086.2L1315.0 1080.9L1315.5 1087.9L1316.0 1073.3L1316.5 1089.2L1317.0 1071.3L1317.5 1090.5L1318.0 1086.8L1318.5 1091.2L1319.0 1089.1L1319.5 1093.5L1320.0 1087.4L1320.5 1096.8L1321.0 1086.0L1321.5 1099.1L1322.0 1091.6L1322.5 1096.2L1323.0 1089.9L1323.5 1092.4L1324.0 1087.4L1324.5 1092.5L1325.0 1088.1L1325.5 1095.4L1326.0 1088.5L1326.5 1095.6L1327.0 1088.1L1327.5 1092.3L1328.0 1086.9L1328.5 1092.5L1329.0 1088.3L1329.5 1094.4L1330.0 1091.3L1330.5 1095.8L1331.0 1089.9L1331.5 1097.5L1332.0 1084.8L1332.5 1099.1L1333.0 1086.7L1333.5 1097.8L1334.0 1088.0L1334.5 1098.0L1335.0 1090.4L1335.5 1101.9L1336.0 1092.9L1336.5 1097.9L1337.0 1088.5L1337.5 1097.2L1338.0 1090.2L1338.5 1097.8L1339.0 1093.4L1339.5 1098.7L1340.0 1091.0L1340.5 1099.9L1341.0 1092.6L1341.5 1101.3L1342.0 1092.8L1342.5 1101.2L1343.0 1093.2L1343.5 1106.0L1344.0 1092.7L1344.5 1106.3L1345.0 1098.1L1345.5 1108.0L1346.0 1096.3L1346.5 1106.9L1347.0 1094.1L1347.5 1104.3L1348.0 1098.6L1348.5 1107.8L1349.0 1102.5L1349.5 1106.8L1350.0 1101.3L1350.5 1109.8L1351.0 1100.0L1351.5 1111.2L1352.0 1100.2L1352.5 1112.4L1353.0 1102.8L1353.5 1110.3L1354.0 1099.6L1354.5 1111.6L1355.0 1101.4L1355.5 1111.3L1356.0 1101.7L1356.5 1109.1L1357.0 1103.3L1357.5 1111.1L1358.0 1102.2L1358.5 1111.8L1359.0 1102.4L1359.5 1114.0L1360.0 1105.2L1360.5 1111.2L1361.0 1104.5L1361.5 1110.1L1362.0 1105.3L1362.5 1111.3L1363.0 1104.6L1363.5 1109.9L1364.0 1103.9L1364.5 1107.7L1365.0 1103.8L1365.5 1107.3L1366.0 1102.5L1366.5 1103.6L1367.0 1099.3L1367.5 1102.6L1368.0 1099.8L1368.5 1102.9L1369.0 1098.1L1369.5 1101.8L1370.0 1093.6L1370.5 1104.6L1371.0 1096.1L1371.5 1105.6L1372.0 1099.1L1372.5 1102.7L1373.0 1097.1L1373.5 1101.4L1374.0 1091.0L1374.5 1104.3L1375.0 1091.5L1375.5 1106.3L1376.0 1092.5L1376.5 1108.3L1377.0 1096.6L1377.5 1108.8L1378.0 1101.5L1378.5 1109.0L1379.0 1098.5L1379.5 1107.3L1380.0 1100.0L1380.5 1107.5L1381.0 1103.4L1381.5 1109.9L1382.0 1100.2L1382.5 1110.1L1383.0 1101.0L1383.5 1110.6L1384.0 1101.2L1384.5 1111.3L1385.0 1095.9L1385.5 1110.5L1386.0 1095.6L1386.5 1108.4L1387.0 1099.5L1387.5 1109.8L1388.0 1098.0L1388.5 1109.6L1389.0 1099.4L1389.5 1106.4L1390.0 1093.0L1390.5 1106.5L1391.0 1104.5L1391.5 1109.5L1392.0 1101.5L1392.5 1111.8L1393.0 1100.3L1393.5 1113.4L1394.0 1101.1L1394.5 1111.4L1395.0 1098.2L1395.5 1107.0L1396.0 1098.1L1396.5 1107.8L1397.0 1098.5L1397.5 1107.6L1398.0 1101.0L1398.5 1104.8L1399.0 1095.1L1399.5 1105.0L1400.0 1094.5L1400.5 1104.0L1401.0 1094.4L1401.5 1103.9L1402.0 1095.3L1402.5 1106.3L1403.0 1096.7L1403.5 1105.6L1404.0 1100.8L1404.5 1106.8L1405.0 1102.2L1405.5 1107.2L1406.0 1097.5L1406.5 1108.1L1407.0 1099.8L1407.5 1110.9L1408.0 1100.0L1408.5 1110.0L1409.0 1105.2L1409.5 1107.4L1410.0 1102.5L1410.5 1110.7L1411.0 1105.6L1411.5 1112.3L1412.0 1105.9L1412.5 1115.1L1413.0 1099.3L1413.5 1115.7L1414.0 1107.3L1414.5 1113.9L1415.0 1106.0L1415.5 1114.6L1416.0 1106.9L1416.5 1112.4L1417.0 1106.2L1417.5 1111.9L1418.0 1104.9L1418.5 1111.7L1419.0 1104.5L1419.5 1111.9L1420.0 1104.9L1420.5 1111.4L1421.0 1105.9L1421.5 1113.3L1422.0 1096.6L1422.5 1109.7L1423.0 1101.2L1423.5 1112.1L1424.0 1108.0L1424.5 1112.3L1425.0 1108.5L1425.5 1110.3L1426.0 1106.9L1426.5 1111.3L1427.0 1100.6L1427.5 1113.4L1428.0 1103.0L1428.5 1115.6L1429.0 1103.0L1429.5 1112.2L1430.0 1106.4L1430.5 1110.7L1431.0 1107.8L1431.5 1115.6L1432.0 1108.4L1432.5 1116.8L1433.0 1109.5L1433.5 1117.7L1434.0 1109.3L1434.5 1114.8L1435.0 1108.5L1435.5 1114.3L1436.0 1110.0L1436.5 1118.7L1437.0 1108.7L1437.5 1117.7L1438.0 1115.1L1438.5 1118.4L1439.0 1111.4L1439.5 1122.3L1440.0 1114.3L1440.5 1119.7L1441.0 1117.5L1441.5 1119.3L1442.0 1112.6L1442.5 1120.8L1443.0 1111.2L1443.5 1123.2L1444.0 1113.9L1444.5 1123.3L1445.0 1115.1L1445.5 1122.1L1446.0 1110.4L1446.5 1122.5L1447.0 1111.5L1447.5 1122.9L1448.0 1114.3L1448.5 1123.0L1449.0 1115.3L1449.5 1122.0L1450.0 1114.8L1450.5 1119.4L1451.0 1116.0L1451.5 1125.9L1452.0 1119.3L1452.5 1128.2L1453.0 1117.7L1453.5 1129.5L1454.0 1118.6L1454.5 1132.4L1455.0 1122.6L1455.5 1135.0L1456.0 1123.6L1456.5 1138.2L1457.0 1125.5L1457.5 1135.0L1458.0 1127.2L1458.5 1134.8L1459.0 1131.2L1459.5 1134.2L1460.0 1130.9L1460.5 1135.5L1461.0 1128.6L1461.5 1142.0L1462.0 1130.4L1462.5 1140.3L1463.0 1135.7L1463.5 1139.0L1464.0 1134.9L1464.5 1143.7L1465.0 1131.9L1465.5 1143.9L1466.0 1133.5L1466.5 1146.4L1467.0 1138.0L1467.5 1145.2L1468.0 1140.4L1468.5 1146.6L1469.0 1135.8L1469.5 1146.4L1470.0 1134.3L1470.5 1145.2L1471.0 1140.8L1471.5 1147.7L1472.0 1144.2L1472.5 1148.6L1473.0 1143.7L1473.5 1148.7L1474.0 1142.8L1474.5 1145.3L1475.0 1143.3L1475.5 1153.5L1476.0 1141.0L1476.5 1151.3L1477.0 1142.6L1477.5 1148.0L1478.0 1141.9L1478.5 1147.0L1479.0 1139.4L1479.5 1146.7L1480.0 1139.3L1480.5 1145.8L1481.0 1135.4L1481.5 1148.8L1482.0 1141.6L1482.5 1154.6L1483.0 1145.6L1483.5 1149.1L1484.0 1143.2L1484.5 1150.2L1485.0 1140.4L1485.5 1152.0L1486.0 1141.8L1486.5 1152.8L1487.0 1145.7L1487.5 1154.6L1488.0 1147.0L1488.5 1154.0L1489.0 1145.2L1489.5 1152.2L1490.0 1146.4L1490.5 1152.8L1491.0 1143.6L1491.5 1150.3L1492.0 1139.9L1492.5 1151.1L1493.0 1141.8L1493.5 1149.3L1494.0 1142.9L1494.5 1149.4L1495.0 1139.0L1495.5 1146.3L1496.0 1141.2L1496.5 1148.1L1497.0 1146.6L1497.5 1152.8L1498.0 1145.5L1498.5 1154.9L1499.0 1146.6L1499.5 1154.5L1500.0 1150.2L1500.5 1155.8L1501.0 1147.1L1501.5 1158.9L1502.0 1145.4L1502.5 1157.3L1503.0 1153.1L1503.5 1159.6L1504.0 1154.1L1504.5 1157.8L1505.0 1150.8L1505.5 1159.1L1506.0 1151.7L1506.5 1161.8L1507.0 1151.4L1507.5 1159.4L1508.0 1146.7L1508.5 1161.1L1509.0 1153.1L1509.5 1162.8L1510.0 1151.6L1510.5 1159.6L1511.0 1152.1L1511.5 1158.2L1512.0 1155.1L1512.5 1161.5L1513.0 1158.0L1513.5 1165.0L1514.0 1157.9L1514.5 1162.3L1515.0 1156.1L1515.5 1159.3L1516.0 1149.1L1516.5 1161.5L1517.0 1148.8L1517.5 1162.4L1518.0 1153.9L1518.5 1162.5L1519.0 1153.7L1519.5 1163.5L1520.0 1154.2L1520.5 1161.7L1521.0 1153.7L1521.5 1159.6L1522.0 1151.1L1522.5 1166.4L1523.0 1152.8L1523.5 1162.8L1524.0 1146.8L1524.5 1162.8L1525.0 1146.2L1525.5 1165.2L1526.0 1157.4L1526.5 1164.1L1527.0 1159.1L1527.5 1165.0L1528.0 1154.8L1528.5 1160.7L1529.0 1157.6L1529.5 1162.6L1530.0 1152.7L1530.5 1161.2L1531.0 1154.9L1531.5 1160.7L1532.0 1156.0L1532.5 1164.3L1533.0 1149.9L1533.5 1166.2L1534.0 1148.7L1534.5 1163.8L1535.0 1157.0L1535.5 1161.7L1536.0 1155.1L1536.5 1162.5L1537.0 1155.6L1537.5 1165.1L1538.0 1160.7L1538.5 1166.2L1539.0 1158.4L1539.5 1166.6L1540.0 1158.3L1540.5 1168.6L1541.0 1158.8L1541.5 1168.2L1542.0 1158.8L1542.5 1166.0L1543.0 1160.0L1543.5 1164.6L1544.0 1162.5L1544.5 1164.2L1545.0 1161.1L1545.5 1168.1L1546.0 1154.7L1546.5 1168.0L1547.0 1158.2L1547.5 1165.9L1548.0 1159.9L1548.5 1165.7L1549.0 1156.6L1549.5 1164.7L1550.0 1160.6L1550.5 1163.6L1551.0 1161.7L1551.5 1164.2L1552.0 1158.1L1552.5 1167.9L1553.0 1158.2L1553.5 1167.8L1554.0 1159.8L1554.5 1169.6L1555.0 1161.9L1555.5 1168.9L1556.0 1161.7L1556.5 1166.2L1557.0 1164.1L1557.5 1167.4L1558.0 1165.3L1558.5 1168.9L1559.0 1162.3L1559.5 1165.9L1560.0 1154.8L1560.5 1167.4L1561.0 1112.4L1561.5 1124.2L1562.0 1112.6L1562.5 1123.1L1563.0 1109.3L1563.5 1122.9L1564.0 1113.2L1564.5 1122.7L1565.0 1115.3L1565.5 1126.7L1566.0 1114.2L1566.5 1124.6L1567.0 1118.6L1567.5 1125.3L1568.0 1119.9L1568.5 1123.9L1569.0 1114.4L1569.5 1127.5L1570.0 1114.4L1570.5 1126.8L1571.0 1117.4L1571.5 1125.1L1572.0 1117.1L1572.5 1123.6L1573.0 1113.7L1573.5 1127.5L1574.0 1116.0L1574.5 1127.8L1575.0 1118.9L1575.5 1127.2L1576.0 1116.1L1576.5 1129.8L1577.0 1118.5L1577.5 1128.5L1578.0 1121.0L1578.5 1124.8L1579.0 1119.1L1579.5 1127.3L1580.0 1111.5L1580.5 1128.7L1581.0 1116.9L1581.5 1131.3L1582.0 1125.5L1582.5 1127.7L1583.0 1125.3L1583.5 1131.6L1584.0 1115.8L1584.5 1130.2L1585.0 1109.4L1585.5 1126.9L1586.0 1120.2L1586.5 1128.3L1587.0 1121.1L1587.5 1128.5L1588.0 1122.1L1588.5 1128.6L1589.0 1123.2L1589.5 1125.9L1590.0 1119.7L1590.5 1128.7L1591.0 1121.2L1591.5 1129.2L1592.0 1119.6L1592.5 1130.8L1593.0 1125.8L1593.5 1127.4L1594.0 1124.8L1594.5 1126.7L1595.0 1120.1L1595.5 1131.4L1596.0 1121.8L1596.5 1128.6L1597.0 1117.2L1597.5 1128.4L1598.0 1118.1L1598.5 1132.9L1599.0 1122.5L1599.5 1127.8L1600.0 1119.7L1600.5 1125.8L1601.0 1117.1L1601.5 1128.2L1602.0 1119.1L1602.5 1128.5L1603.0 1123.1L1603.5 1126.8L1604.0 1121.9L1604.5 1126.4L1605.0 1122.1L1605.5 1129.1L1606.0 1124.6L1606.5 1124.9L1607.0 1123.4L1607.5 1124.8L1608.0 1121.3L1608.5 1129.2L1609.0 1121.7L1609.5 1128.4L1610.0 1119.5L1610.5 1132.3L1611.0 1111.2L1611.5 1128.5L1612.0 1113.1L1612.5 1131.2L1613.0 1117.5L1613.5 1124.3L1614.0 1120.6L1614.5 1120.9L1615.0 1118.8L1615.5 1122.6L1616.0 1115.1L1616.5 1121.7L1617.0 1105.1L1617.5 1120.6L1618.0 1116.6L1618.5 1122.5L1619.0 1115.4L1619.5 1119.7L1620.0 1114.1L1620.5 1122.6L1621.0 1114.4L1621.5 1120.8L1622.0 1115.3L1622.5 1121.5L1623.0 1115.2L1623.5 1121.1L1624.0 1118.4L1624.5 1118.6L1625.0 1115.2L1625.5 1119.7L1626.0 1114.6L1626.5 1120.7L1627.0 1112.4L1627.5 1123.7L1628.0 1114.6L1628.5 1123.2L1629.0 1112.9L1629.5 1121.0L1630.0 1113.1L1630.5 1117.4L1631.0 1112.5L1631.5 1116.2L1632.0 1112.1L1632.5 1115.3L1633.0 1110.3L1633.5 1115.6L1634.0 1108.8L1634.5 1118.0L1635.0 1112.4L1635.5 1115.5L1636.0 1110.6L1636.5 1116.6L1637.0 1111.7L1637.5 1116.6L1638.0 1110.4L1638.5 1115.4L1639.0 1107.5L1639.5 1115.2L1640.0 1110.3L1640.5 1116.1L1641.0 1110.3L1641.5 1113.5L1642.0 1109.9L1642.5 1116.0L1643.0 1110.2L1643.5 1112.5L1644.0 1106.0L1644.5 1111.4L1645.0 1106.8L1645.5 1110.7L1646.0 1107.0L1646.5 1115.6L1647.0 1106.7L1647.5 1110.8L1648.0 1103.4L1648.5 1110.3L1649.0 1102.0L1649.5 1112.4L1650.0 1103.9L1650.5 1113.7L1651.0 1102.5L1651.5 1109.8L1652.0 1102.6L1652.5 1112.1L1653.0 1105.3L1653.5 1111.6L1654.0 1106.8L1654.5 1108.4L1655.0 1106.8L1655.5 1107.5L1656.0 1103.8L1656.5 1110.3L1657.0 1101.2L1657.5 1110.8L1658.0 1099.7L1658.5 1109.8L1659.0 1101.9L1659.5 1110.0L1660.0 1097.1L1660.5 1110.6L1661.0 1089.6L1661.5 1109.9L1662.0 1092.3L1662.5 1105.9L1663.0 1099.4L1663.5 1106.8L1664.0 1100.2L1664.5 1108.3L1665.0 1101.2L1665.5 1105.1L1666.0 1093.2L1666.5 1105.5L1667.0 1095.9L1667.5 1103.7L1668.0 1094.9L1668.5 1104.4L1669.0 1093.6L1669.5 1100.5L1670.0 1095.3L1670.5 1099.5L1671.0 1095.2L1671.5 1102.1L1672.0 1095.8L1672.5 1102.2L1673.0 1093.0L1673.5 1102.8L1674.0 1092.1L1674.5 1102.3L1675.0 1090.7L1675.5 1098.8L1676.0 1092.9L1676.5 1102.2L1677.0 1097.3L1677.5 1102.8L1678.0 1094.9L1678.5 1099.5L1679.0 1093.4L1679.5 1096.5L1680.0 1091.3L1680.5 1100.5L1681.0 1086.6L1681.5 1099.3L1682.0 1090.1L1682.5 1097.9L1683.0 1090.8L1683.5 1097.9L1684.0 1090.5L1684.5 1094.3L1685.0 1092.5L1685.5 1094.9L1686.0 1086.4L1686.5 1091.8L1687.0 1088.3L1687.5 1090.6L1688.0 1086.5L1688.5 1093.3L1689.0 1084.0L1689.5 1090.3L1690.0 1086.7L1690.5 1091.5L1691.0 1085.5L1691.5 1089.0L1692.0 1083.6L1692.5 1088.3L1693.0 1083.3L1693.5 1087.1L1694.0 1082.3L1694.5 1085.2L1695.0 1083.5L1695.5 1085.7L1696.0 1080.4L1696.5 1084.8L1697.0 1077.5L1697.5 1082.2L1698.0 1077.0L1698.5 1082.1L1699.0 1076.4L1699.5 1081.4L1700.0 1076.0L1700.5 1081.2L1701.0 1074.7L1701.5 1081.0L1702.0 1074.4L1702.5 1082.4L1703.0 1072.1L1703.5 1080.7L1704.0 1074.5L1704.5 1079.6L1705.0 1073.4L1705.5 1079.1L1706.0 1072.7L1706.5 1079.0L1707.0 1071.1L1707.5 1078.0L1708.0 1069.3L1708.5 1075.2L1709.0 1071.3L1709.5 1074.1L1710.0 1069.2L1710.5 1073.4L1711.0 1066.9L1711.5 1070.8L1712.0 1065.5L1712.5 1069.7L1709.2 1067.7L1712.7 1068.4L1710.7 1065.0L1714.4 1065.8L1712.2 1062.1L1716.8 1063.7L1714.3 1061.4L1718.3 1061.5L1713.6 1058.3L1718.8 1058.8L1716.4 1056.5L1719.3 1056.2L1716.7 1053.8L1720.9 1053.9L1718.3 1051.0L1722.0 1051.3L1719.5 1048.5L1723.4 1048.9L1721.4 1046.3L1724.7 1046.4L1722.0 1043.5L1726.1 1044.0L1723.6 1041.6L1727.0 1041.5L1724.5 1039.1L1727.8 1038.9L1725.9 1036.8L1728.8 1036.5L1726.5 1034.1L1729.8 1034.0L1727.8 1031.7L1731.2 1031.6L1728.6 1029.1L1731.9 1029.0L1730.0 1026.7L1733.2 1026.6L1730.9 1024.2L1734.0 1024.0L1730.6 1021.1L1734.7 1021.4L1732.9 1019.9L1735.7 1019.2L1733.2 1017.4L1736.7 1016.7L1734.5 1015.1L1737.0 1014.2L1735.1 1012.6L1737.2 1011.7L1735.3 1010.0L1737.8 1009.2L1736.2 1007.6L1738.2 1006.7L1736.6 1005.1L1739.0 1004.2L1737.1 1002.7L1739.0 1001.7L1737.9 1000.2L1739.9 999.3L1738.5 997.8L1739.9 996.7L1738.6 995.2L1740.7 994.3L1738.9 992.7L1741.1 991.8L1739.3 990.2L1741.4 989.2L1740.0 987.7L1741.6 986.7L1740.5 985.2L1742.3 984.2L1741.2 982.7L1742.7 981.7L1741.4 980.1L1743.1 979.2L1742.0 977.6L1744.1 976.8L1743.0 975.2L1744.4 974.2L1743.5 972.7L1744.8 971.7L1743.9 970.3L1745.5 969.3L1744.5 967.8L1745.9 966.8L1744.5 965.3L1746.2 964.3L1745.2 962.8L1746.4 961.7L1745.4 960.3L1747.1 959.3L1745.8 957.8L1747.5 956.8L1746.2 955.3L1747.5 954.2L1746.5 952.9L1748.0 951.8L1746.9 950.4L1748.5 949.3L1747.4 947.9L1748.8 946.8L1747.2 945.3L1749.0 944.3L1748.0 942.9L1749.4 941.8L1748.1 940.3L1749.7 939.3L1748.8 937.9L1749.9 936.8L1749.2 935.4L1750.4 934.3L1749.5 933.0L1750.7 931.8L1749.9 930.5L1750.9 929.3L1750.1 928.0L1750.9 926.8L1750.2 925.5L1751.3 924.3L1750.4 923.0L1751.4 921.8L1750.5 920.5L1751.5 919.3L1750.8 918.0L1751.8 916.8L1751.1 915.5L1751.9 914.3L1751.4 913.0L1752.3 911.8L1751.5 910.5L1752.4 909.3L1751.8 908.0L1752.7 906.8L1752.0 905.4L1752.9 904.3L1752.4 903.0L1753.3 901.8L1752.7 900.4L1753.5 899.3L1753.1 898.0L1753.9 896.8L1753.4 895.5L1754.2 894.3L1753.7 893.0L1754.4 891.8L1754.2 890.5L1754.9 889.3L1754.5 888.0L1755.3 886.8L1754.7 885.5L1755.6 884.3L1755.0 883.0L1755.7 881.8L1755.3 880.5L1755.9 879.3L1755.6 878.0L1756.2 876.8L1755.9 875.5L1756.4 874.3L1756.1 873.0L1756.7 871.8L1756.4 870.5L1757.0 869.3L1756.6 868.0L1757.2 866.8L1756.9 865.5L1757.4 864.3L1757.2 863.0L1757.7 861.8L1757.5 860.5L1758.0 859.3L1757.5 858.0L1758.2 856.8L1757.9 855.5L1758.5 854.3L1758.3 853.0L1758.7 851.8L1758.5 850.5L1759.2 849.3L1758.7 848.0L1759.5 846.8L1759.0 845.5L1759.5 844.3L1759.2 843.0L1759.7 841.8L1759.5 840.5L1759.9 839.3L1759.8 838.0L1760.3 836.8L1760.1 835.5L1760.5 834.3L1760.3 833.0L1760.8 831.8L1760.6 830.5L1761.0 829.3L1760.8 828.0L1761.3 826.8L1761.1 825.5L1761.5 824.3L1761.3 823.0L1761.8 821.8L1761.6 820.5L1762.0 819.3L1761.9 818.0L1762.2 816.8L1762.1 815.5L1762.5 814.3L1762.4 813.0L1762.7 811.8L1762.6 810.5L1763.0 809.3L1762.9 808.0L1763.2 806.8L1763.1 805.5L1763.4 804.3L1763.4 803.0L1763.7 801.8L1763.6 800.5L1763.9 799.3L1763.8 798.0L1764.1 796.8L1764.0 795.5L1764.3 794.3L1764.2 793.0L1764.6 791.8L1764.4 790.5L1764.7 789.3L1764.6 788.0L1764.9 786.8L1764.9 785.5L1765.1 784.3L1765.1 783.0L1765.3 781.8L1765.3 780.5L1765.6 779.3L1765.5 778.0L1765.8 776.8L1765.8 775.5L1766.0 774.3L1766.0 773.0L1766.3 771.8L1766.3 770.5L1766.5 769.3L1766.5 768.0L1766.7 766.8L1766.7 765.5L1766.9 764.3L1767.0 763.1L1767.2 761.8L1767.2 760.6L1785.7 509.0L1794.2 399.5L1804.7 259.6L1808.4 217.1L1812.2 184.6L1815.2 159.6L1818.4 142.1L1822.2 129.6L1825.9 122.1L1829.7 117.1L1834.7 114.6L1842.2 113.6L1860.2 113.2"/>
<path stroke="#000000" d="M280.5 113.3L305.8 113.3L309.2 118.3L312.5 130.0L315.8 150.0L318.3 170.0L320.0 185.0L322.0 213.3L324.2 243.3L326.7 275.0L329.2 306.7L331.2 335.0L334.2 380.0L337.5 423.3L340.8 463.3L342.0 483.3L344.7 509.2L347.5 535.0L349.5 538.3L351.7 563.3L354.2 590.0L357.2 613.3L358.0 643.3L359.5 660.0L363.0 679.2L364.3 663.3L366.0 683.3L368.3 688.3L372.5 705.0L373.0 726.7L375.8 728.3L377.5 743.3L379.2 748.3L380.0 736.7L381.8 740.8L382.1 780.0L382.2 815.6L383.0 814.9L383.5 815.7L384.0 815.4L384.5 817.0L385.0 817.0L385.5 818.8L386.0 817.9L386.5 820.8L387.0 819.4L387.5 821.7L388.0 821.1L388.5 822.2L389.0 821.2L389.5 823.1L390.0 822.2L390.5 822.5L391.0 819.3L391.5 819.9L392.0 817.4L392.5 817.7L393.0 815.6L393.5 817.3L394.0 815.9L394.5 818.9L395.0 817.0L395.5 819.6L396.0 818.7L396.5 820.3L397.0 820.1L397.5 820.3L398.0 819.1L398.5 819.2L399.0 818.0L399.5 818.6L400.0 816.8L400.5 819.6L401.0 817.3L401.5 821.1L402.0 818.6L402.5 823.8L403.0 827.5L403.5 834.7L404.0 833.1L404.5 833.8L405.0 832.2L405.5 833.3L406.0 832.0L406.5 832.6L407.0 832.1L407.5 833.4L408.0 831.2L408.5 832.9L409.0 830.7L409.5 832.9L410.0 831.3L410.5 833.4L411.0 831.6L411.5 833.3L412.0 832.1L412.5 833.6L413.0 832.1L413.5 833.2L414.0 832.1L414.5 833.6L415.0 831.4L415.5 833.0L416.0 831.2L416.5 832.7L417.0 830.8L417.5 832.2L418.0 830.3L418.5 831.5L419.0 829.6L419.5 831.3L420.0 829.1L420.5 831.8L421.0 829.9L421.5 831.8L422.0 831.2L422.5 832.2L423.0 831.4L423.5 832.5L424.0 830.6L424.5 832.7L425.0 831.1L425.5 832.9L426.0 830.9L426.5 831.8L427.0 830.5L427.5 831.7L428.0 830.5L428.5 832.0L429.0 829.9L429.5 830.6L430.0 829.8L430.5 830.8L431.0 829.3L431.5 830.4L432.0 829.6L432.5 831.8L433.0 829.8L433.5 833.1L434.0 831.5L434.5 833.9L435.0 831.4L435.5 833.0L436.0 831.5L436.5 833.8L437.0 831.5L437.5 834.6L438.0 832.8L438.5 833.8L439.0 833.1L439.5 833.7L440.0 831.6L440.5 833.6L441.0 831.3L441.5 832.7L442.0 830.9L442.5 832.7L443.0 831.1L443.5 832.1L444.0 829.8L444.5 832.3L445.0 830.5L445.5 832.2L446.0 831.1L446.5 832.7L447.0 830.5L447.5 832.8L448.0 831.3L448.5 834.0L449.0 831.5L449.5 833.2L450.0 831.6L450.5 833.7L451.0 831.3L451.5 833.6L452.0 832.6L452.5 833.3L453.0 832.9L453.5 834.6L454.0 833.0L454.5 837.3L455.0 835.6L455.5 838.2L456.0 836.1L456.5 838.5L457.0 836.2L457.5 838.1L458.0 836.2L458.5 838.0L459.0 837.2L459.5 838.6L460.0 837.1L460.5 837.9L461.0 836.4L461.5 837.8L462.0 837.6L462.5 838.5L463.0 837.6L463.5 839.8L464.0 837.5L464.5 838.2L465.0 836.4L465.5 837.6L466.0 835.2L466.5 837.7L467.0 835.6L467.5 837.9L468.0 835.6L468.5 838.1L469.0 835.7L469.5 838.0L470.0 835.6L470.5 837.4L471.0 834.8L471.5 837.3L472.0 835.1L472.5 836.7L473.0 834.6L473.5 836.5L474.0 833.9L474.5 836.0L475.0 834.5L475.5 835.3L476.0 834.6L476.5 835.3L477.0 834.4L477.5 840.4L478.0 843.9L478.5 845.6L479.0 845.1L479.5 846.0L480.0 845.1L480.5 846.7L481.0 844.3L481.5 846.5L482.0 844.2L482.5 846.2L483.0 843.4L483.5 845.3L484.0 844.0L484.5 845.8L485.0 843.5L485.5 845.0L486.0 843.5L486.5 843.7L487.0 842.9L487.5 842.8L488.0 841.4L488.5 843.3L489.0 840.3L489.5 843.1L490.0 842.1L490.5 843.6L491.0 841.8L491.5 843.8L492.0 842.5L492.5 843.7L493.0 843.2L493.5 843.3L494.0 843.4L494.5 844.0L495.0 842.3L495.5 844.5L496.0 843.6L496.5 846.6L497.0 843.9L497.5 846.5L498.0 844.9L498.5 847.7L499.0 845.2L499.5 847.7L500.0 846.1L500.5 847.9L501.0 846.3L501.5 847.2L502.0 845.0L502.5 845.8L503.0 843.7L503.5 845.4L504.0 843.5L504.5 844.6L505.0 843.7L505.5 844.3L506.0 842.8L506.5 843.5L507.0 842.5L507.5 843.3L508.0 842.5L508.5 844.5L509.0 842.3L509.5 844.7L510.0 841.9L510.5 844.4L511.0 843.1L511.5 844.5L512.0 842.5L512.5 845.2L513.0 841.9L513.5 845.1L514.0 842.2L514.5 844.2L515.0 843.1L515.5 844.2L516.0 842.7L516.5 844.0L517.0 842.4L517.5 844.2L518.0 842.1L518.5 844.5L519.0 843.5L519.5 844.5L520.0 842.9L520.5 844.2L521.0 843.2L521.5 844.1L522.0 843.7L522.5 844.2L523.0 842.9L523.5 843.3L524.0 840.9L524.5 842.1L525.0 839.0L525.5 840.3L526.0 837.6L526.5 838.9L527.0 835.9L527.5 837.8L528.0 835.9L528.5 838.8L529.0 837.6L529.5 840.1L530.0 839.0L530.5 841.0L531.0 840.7L531.5 842.1L532.0 841.2L532.5 843.0L533.0 842.1L533.5 843.8L534.0 842.6L534.5 843.9L535.0 843.7L535.5 844.8L536.0 844.2L536.5 845.7L537.0 844.5L537.5 846.6L538.0 845.0L538.5 847.4L539.0 845.4L539.5 846.1L540.0 845.0L540.5 846.1L541.0 844.3L541.5 844.7L542.0 842.8L542.5 843.9L543.0 842.3L543.5 844.5L544.0 843.0L544.5 843.7L545.0 841.8L545.5 842.7L546.0 841.0L546.5 842.4L547.0 841.0L547.5 842.0L548.0 841.7L548.5 842.1L549.0 841.4L549.5 842.1L550.0 840.4L550.5 841.7L551.0 839.4L551.5 841.8L552.0 839.1L552.5 840.6L553.0 839.5L553.5 840.7L554.0 840.0L554.5 841.1L555.0 839.9L555.5 841.3L556.0 840.8L556.5 841.6L557.0 840.6L557.5 841.9L558.0 840.3L558.5 843.1L559.0 839.9L559.5 842.6L560.0 840.8L560.5 840.8L561.0 837.8L561.5 837.5L562.0 835.3L562.5 835.5L563.0 831.5L563.5 832.1L564.0 829.0L564.5 831.6L565.0 830.4L565.5 834.0L566.0 833.1L566.5 836.3L567.0 835.5L567.5 837.5L568.0 837.2L568.5 839.2L569.0 839.9L569.5 840.9L570.0 840.6L570.5 842.6L571.0 840.7L571.5 842.7L572.0 841.3L572.5 843.2L573.0 840.5L573.5 843.0L574.0 841.8L574.5 842.4L575.0 842.3L575.5 842.3L576.0 841.8L576.5 843.8L577.0 842.1L577.5 844.2L578.0 840.9L578.5 842.5L579.0 839.9L579.5 841.9L580.0 838.6L580.5 840.5L581.0 837.4L581.5 838.2L582.0 836.6L582.5 837.7L583.0 835.1L583.5 837.3L584.0 834.6L584.5 836.3L585.0 835.7L585.5 837.3L586.0 837.1L586.5 840.7L587.0 838.8L587.5 842.1L588.0 841.3L588.5 842.3L589.0 842.4L589.5 844.5L590.0 844.9L590.5 846.1L591.0 844.6L591.5 845.1L592.0 844.0L592.5 845.2L593.0 843.4L593.5 844.5L594.0 843.0L594.5 844.2L595.0 841.7L595.5 843.7L596.0 840.8L596.5 842.5L597.0 841.8L597.5 842.5L598.0 841.5L598.5 841.6L599.0 841.0L599.5 841.4L600.0 840.6L600.5 841.2L601.0 840.3L601.5 841.6L602.0 840.8L602.5 842.1L603.0 841.7L603.5 842.6L604.0 841.6L604.5 843.1L605.0 841.4L605.5 844.3L606.0 841.3L606.5 843.3L607.0 842.2L607.5 843.5L608.0 842.1L608.5 843.4L609.0 842.4L609.5 844.3L610.0 843.3L610.5 842.3L611.0 839.0L611.5 839.5L612.0 836.6L612.5 836.8L613.0 836.8L613.5 838.5L614.0 838.6L614.5 840.9L615.0 841.3L615.5 844.0L616.0 843.0L616.5 846.2L617.0 844.6L617.5 846.5L618.0 843.7L618.5 844.8L619.0 842.9L619.5 843.6L620.0 841.3L620.5 842.6L621.0 839.4L621.5 841.2L622.0 839.3L622.5 841.3L623.0 840.4L623.5 843.6L624.0 841.7L624.5 844.1L625.0 843.0L625.5 845.4L626.0 843.8L626.5 846.8L627.0 844.4L627.5 846.8L628.0 844.1L628.5 845.6L629.0 843.2L629.5 844.9L630.0 843.2L630.5 845.3L631.0 843.0L631.5 845.6L632.0 843.2L632.5 844.8L633.0 842.4L633.5 843.7L634.0 842.5L634.5 843.9L635.0 842.1L635.5 844.0L636.0 841.2L636.5 843.8L637.0 842.4L637.5 844.5L638.0 842.7L638.5 845.2L639.0 843.6L639.5 846.1L640.0 844.1L640.5 845.5L641.0 842.4L641.5 842.8L642.0 840.4L642.5 840.9L643.0 838.1L643.5 837.2L644.0 834.8L644.5 834.2L645.0 831.9L645.5 831.6L646.0 829.5L646.5 829.1L647.0 827.3L647.5 827.1L648.0 821.2L648.5 820.0L649.0 813.9L649.5 811.5L650.0 807.5L650.5 805.6L651.0 803.0L651.5 807.6L652.0 810.2L652.5 816.3L653.0 818.7L653.5 825.4L654.0 828.0L654.5 834.7L655.0 832.2L655.5 835.2L656.0 832.5L656.5 835.8L657.0 835.9L657.5 839.0L658.0 838.8L658.5 842.7L659.0 843.3L659.5 846.7L660.0 847.1L660.5 848.0L661.0 846.2L661.5 847.9L662.0 846.1L662.5 848.3L663.0 846.6L663.5 846.6L664.0 843.0L664.5 843.9L665.0 841.0L665.5 841.9L666.0 837.6L666.5 838.5L667.0 835.7L667.5 835.8L668.0 833.6L668.5 835.9L669.0 835.5L669.5 837.2L670.0 836.3L670.5 835.9L671.0 833.9L671.5 834.2L672.0 830.5L672.5 831.6L673.0 833.1L673.5 839.0L674.0 840.8L674.5 847.1L675.0 845.2L675.5 847.9L676.0 845.1L676.5 847.5L677.0 844.7L677.5 846.9L678.0 844.9L678.5 845.5L679.0 844.2L679.5 846.9L680.0 844.0L680.5 848.0L681.0 845.5L681.5 848.5L682.0 847.3L682.5 850.0L683.0 847.2L683.5 850.2L684.0 847.0L684.5 849.6L685.0 846.5L685.5 848.9L686.0 846.1L686.5 846.8L687.0 845.3L687.5 846.4L688.0 845.4L688.5 846.4L689.0 845.0L689.5 846.2L690.0 845.3L690.5 846.0L691.0 844.3L691.5 845.7L692.0 844.2L692.5 845.7L693.0 843.6L693.5 846.6L694.0 843.9L694.5 847.0L695.0 844.7L695.5 845.8L696.0 844.4L696.5 846.9L697.0 844.5L697.5 847.6L698.0 845.7L698.5 847.9L699.0 846.4L699.5 848.3L700.0 847.4L700.5 850.4L701.0 849.3L701.5 850.9L702.0 847.9L702.5 850.1L703.0 848.2L703.5 848.8L704.0 847.8L704.5 849.2L705.0 847.0L705.5 849.1L706.0 846.7L706.5 848.2L707.0 845.6L707.5 848.0L708.0 845.5L708.5 846.2L709.0 843.7L709.5 844.4L710.0 842.2L710.5 843.9L711.0 841.5L711.5 842.3L712.0 841.4L712.5 841.8L713.0 840.5L713.5 841.8L714.0 839.5L714.5 841.1L715.0 838.4L715.5 838.9L716.0 834.5L716.5 834.2L717.0 828.6L717.5 828.8L718.0 823.1L718.5 823.9L719.0 820.2L719.5 820.8L720.0 816.8L720.5 816.2L721.0 813.2L721.5 816.3L722.0 817.4L722.5 823.1L723.0 824.1L723.5 829.6L724.0 830.5L724.5 835.8L725.0 836.7L725.5 841.2L726.0 842.6L726.5 847.2L727.0 847.8L727.5 848.6L728.0 845.2L728.5 845.7L729.0 841.9L729.5 843.5L730.0 838.9L730.5 839.4L731.0 834.9L731.5 835.3L732.0 831.0L732.5 836.0L733.0 837.4L733.5 837.5L734.0 834.5L734.5 835.8L735.0 832.9L735.5 833.8L736.0 831.4L736.5 834.1L737.0 833.5L737.5 836.5L738.0 836.8L738.5 839.6L739.0 839.8L739.5 843.5L740.0 842.9L740.5 845.3L741.0 842.9L741.5 842.0L742.0 838.9L742.5 838.3L743.0 834.6L743.5 833.0L744.0 830.6L744.5 828.8L745.0 825.4L745.5 823.9L746.0 819.8L746.5 817.8L747.0 814.6L747.5 812.2L748.0 808.2L748.5 805.4L749.0 800.2L749.5 798.0L750.0 799.8L750.5 808.0L751.0 813.5L751.5 820.5L752.0 825.1L752.5 831.2L753.0 834.7L753.5 836.3L754.0 833.3L754.5 834.0L755.0 831.5L755.5 832.9L756.0 832.3L756.5 833.7L757.0 832.3L757.5 835.4L758.0 829.8L758.5 828.6L759.0 822.2L759.5 821.6L760.0 816.1L760.5 817.9L761.0 815.4L761.5 817.0L762.0 815.0L762.5 816.7L763.0 814.7L763.5 816.5L764.0 815.3L764.5 819.1L765.0 819.6L765.5 821.3L766.0 822.7L766.5 824.3L767.0 825.9L767.5 828.9L768.0 828.9L768.5 831.8L769.0 831.2L769.5 835.2L770.0 835.0L770.5 837.3L771.0 837.5L771.5 841.4L772.0 841.0L772.5 842.3L773.0 840.5L773.5 840.7L774.0 838.8L774.5 839.2L775.0 837.9L775.5 838.4L776.0 835.1L776.5 833.1L777.0 828.6L777.5 826.4L778.0 825.0L778.5 826.8L779.0 824.5L779.5 827.2L780.0 825.0L780.5 827.3L781.0 826.8L781.5 831.8L782.0 832.8L782.5 836.4L783.0 838.2L783.5 839.2L784.0 835.9L784.5 836.9L785.0 832.8L785.5 832.9L786.0 830.2L786.5 829.9L787.0 827.0L787.5 826.9L788.0 823.1L788.5 824.2L789.0 820.5L789.5 821.7L790.0 818.2L790.5 817.8L791.0 816.1L791.5 817.8L792.0 815.3L792.5 818.7L793.0 814.3L793.5 817.2L794.0 813.1L794.5 815.3L795.0 811.2L795.5 812.7L796.0 810.1L796.5 810.2L797.0 807.6L797.5 813.5L798.0 818.8L798.5 825.9L799.0 831.5L799.5 837.7L800.0 836.6L800.5 839.9L801.0 840.6L801.5 842.6L802.0 843.3L802.5 845.6L803.0 844.8L803.5 847.1L804.0 846.5L804.5 848.6L805.0 847.3L805.5 851.1L806.0 848.3L806.5 849.6L807.0 846.8L807.5 846.7L808.0 845.2L808.5 845.5L809.0 843.3L809.5 844.6L810.0 841.0L810.5 842.0L811.0 838.8L811.5 840.0L812.0 836.5L812.5 837.3L813.0 834.7L813.5 834.0L814.0 831.6L814.5 832.4L815.0 829.7L815.5 830.1L816.0 827.8L816.5 828.4L817.0 826.2L817.5 826.9L818.0 824.2L818.5 825.1L819.0 822.1L819.5 822.6L820.0 820.4L820.5 820.0L821.0 817.3L821.5 816.8L822.0 814.6L822.5 815.3L823.0 817.0L823.5 821.2L824.0 822.7L824.5 826.6L825.0 828.8L825.5 832.5L826.0 833.6L826.5 837.4L827.0 837.7L827.5 842.3L828.0 840.5L828.5 841.1L829.0 840.0L829.5 840.4L830.0 839.0L830.5 839.6L831.0 838.3L831.5 838.5L832.0 836.0L832.5 837.7L833.0 834.9L833.5 836.1L834.0 835.4L834.5 836.9L835.0 836.8L835.5 838.8L836.0 839.7L836.5 840.8L837.0 840.5L837.5 843.3L838.0 842.8L838.5 845.1L839.0 843.8L839.5 847.0L840.0 845.7L840.5 847.6L841.0 847.0L841.5 850.4L842.0 849.9L842.5 852.9L843.0 852.3L843.5 855.1L844.0 853.8L844.5 855.1L845.0 851.2L845.5 852.2L846.0 849.0L846.5 850.3L847.0 847.0L847.5 848.8L848.0 847.3L848.5 849.7L849.0 848.8L849.5 850.3L850.0 849.4L850.5 851.7L851.0 850.4L851.5 852.6L852.0 851.9L852.5 853.7L853.0 852.5L853.5 855.8L854.0 854.5L854.5 856.7L855.0 855.4L855.5 855.3L856.0 852.9L856.5 852.5L857.0 849.5L857.5 850.4L858.0 847.0L858.5 847.5L859.0 843.0L859.5 842.3L860.0 839.2L860.5 841.3L861.0 841.3L861.5 844.2L862.0 843.4L862.5 846.4L863.0 846.0L863.5 849.7L864.0 849.3L864.5 851.6L865.0 848.2L865.5 849.2L866.0 846.4L866.5 846.0L867.0 843.6L867.5 843.4L868.0 840.5L868.5 841.2L869.0 838.6L869.5 840.5L870.0 838.0L870.5 835.8L871.0 829.7L871.5 828.3L872.0 823.5L872.5 823.8L873.0 821.0L873.5 821.7L874.0 819.1L874.5 819.3L875.0 820.7L875.5 825.2L876.0 827.9L876.5 833.2L877.0 835.8L877.5 841.0L878.0 843.8L878.5 849.2L879.0 851.3L879.5 852.5L880.0 851.4L880.5 853.0L881.0 851.8L881.5 853.1L882.0 852.0L882.5 854.4L883.0 850.7L883.5 851.8L884.0 848.7L884.5 848.6L885.0 846.4L885.5 848.1L886.0 846.5L886.5 848.9L887.0 847.6L887.5 849.1L888.0 848.9L888.5 852.7L889.0 853.8L889.5 856.7L890.0 856.0L890.5 854.8L891.0 851.3L891.5 850.3L892.0 846.6L892.5 847.0L893.0 843.8L893.5 844.5L894.0 844.9L894.5 846.0L895.0 845.9L895.5 848.4L896.0 848.4L896.5 850.7L897.0 849.4L897.5 852.6L898.0 851.5L898.5 854.5L899.0 853.4L899.5 855.2L900.0 852.7L900.5 853.7L901.0 851.2L901.5 851.6L902.0 848.5L902.5 847.1L903.0 842.9L903.5 842.1L904.0 837.6L904.5 836.8L905.0 834.4L905.5 833.4L906.0 830.5L906.5 831.2L907.0 826.6L907.5 826.4L908.0 823.5L908.5 822.9L909.0 821.7L909.5 825.1L910.0 823.5L910.5 827.3L911.0 827.9L911.5 833.8L912.0 834.9L912.5 840.3L913.0 837.7L913.5 840.8L914.0 838.1L914.5 840.5L915.0 839.4L915.5 840.5L916.0 836.6L916.5 838.0L917.0 834.1L917.5 834.9L918.0 835.4L918.5 841.5L919.0 841.3L919.5 846.3L920.0 842.9L920.5 844.1L921.0 839.8L921.5 840.4L922.0 838.3L922.5 838.7L923.0 836.0L923.5 836.0L924.0 833.8L924.5 835.4L925.0 836.8L925.5 841.2L926.0 843.8L926.5 847.8L927.0 850.1L927.5 854.6L928.0 856.0L928.5 861.0L929.0 860.6L929.5 865.1L930.0 864.7L930.5 867.2L931.0 865.4L931.5 867.6L932.0 865.5L932.5 867.0L933.0 864.5L933.5 865.9L934.0 865.4L934.5 869.1L935.0 868.8L935.5 872.5L936.0 871.7L936.5 875.3L937.0 874.7L937.5 878.8L938.0 878.6L938.5 880.5L939.0 878.4L939.5 881.5L940.0 879.9L940.5 881.8L941.0 880.9L941.5 880.7L942.0 877.9L942.5 876.9L943.0 872.5L943.5 873.2L944.0 870.5L944.5 874.0L945.0 872.6L945.5 877.5L946.0 875.0L946.5 879.2L947.0 876.9L947.5 877.8L948.0 875.1L948.5 876.4L949.0 873.7L949.5 876.7L950.0 875.5L950.5 878.2L951.0 877.0L951.5 879.4L952.0 878.2L952.5 879.0L953.0 878.7L953.5 880.6L954.0 879.3L954.5 882.3L955.0 881.5L955.5 884.4L956.0 882.2L956.5 885.1L957.0 882.6L957.5 884.5L958.0 882.3L958.5 884.1L959.0 881.8L959.5 883.2L960.0 884.8L960.5 888.4L961.0 888.4L961.5 891.6L962.0 890.7L962.5 890.4L963.0 886.0L963.5 888.3L964.0 884.0L964.5 884.1L965.0 875.8L965.5 876.1L966.0 868.8L966.5 867.7L967.0 862.7L967.5 867.1L968.0 866.4L968.5 871.1L969.0 869.3L969.5 873.7L970.0 872.1L970.5 877.5L971.0 871.9L971.5 872.9L972.0 867.9L972.5 869.2L973.0 864.5L973.5 866.3L974.0 863.3L974.5 870.7L975.0 872.0L975.5 878.0L976.0 882.4L976.5 884.4L977.0 883.9L977.5 884.6L978.0 881.6L978.5 884.1L979.0 885.6L979.5 891.0L980.0 894.8L980.5 902.6L981.0 904.5L981.5 910.2L982.0 911.7L982.5 918.9L983.0 916.7L983.5 917.2L984.0 913.9L984.5 914.7L985.0 910.0L985.5 911.5L986.0 907.0L986.5 908.1L987.0 904.4L987.5 911.2L988.0 912.4L988.5 918.4L989.0 919.9L989.5 923.2L990.0 923.1L990.5 927.5L991.0 924.3L991.5 928.1L992.0 923.8L992.5 927.8L993.0 924.8L993.5 927.4L994.0 924.6L994.5 929.7L995.0 925.9L995.5 934.3L996.0 928.9L996.5 937.3L997.0 935.4L997.5 942.2L998.0 941.8L998.5 947.0L999.0 940.1L999.5 947.4L1000.0 941.2L1000.5 947.4L1001.0 943.3L1001.5 948.1L1002.0 943.5L1002.5 944.5L1003.0 943.6L1003.5 943.8L1004.0 939.5L1004.5 943.9L1005.0 937.8L1005.5 938.6L1006.0 934.7L1006.5 936.7L1007.0 932.0L1007.5 934.4L1008.0 931.6L1008.5 936.6L1009.0 936.3L1009.5 941.6L1010.0 943.3L1010.5 948.3L1011.0 948.4L1011.5 951.0L1012.0 949.2L1012.5 953.8L1013.0 950.3L1013.5 955.9L1014.0 951.6L1014.5 956.8L1015.0 951.3L1015.5 955.9L1016.0 949.1L1016.5 952.6L1017.0 942.2L1017.5 947.2L1018.0 938.4L1018.5 943.5L1019.0 942.7L1019.5 951.0L1020.0 951.4L1020.5 959.7L1021.0 959.4L1021.5 965.1L1022.0 965.3L1022.5 973.2L1023.0 974.4L1023.5 979.2L1024.0 976.4L1024.5 979.9L1025.0 976.2L1025.5 978.7L1026.0 972.5L1026.5 974.5L1027.0 967.2L1027.5 967.7L1028.0 960.8L1028.5 966.3L1029.0 964.2L1029.5 970.2L1030.0 969.8L1030.5 974.6L1031.0 972.4L1031.5 976.9L1032.0 973.4L1032.5 980.5L1033.0 976.3L1033.5 983.4L1034.0 980.6L1034.5 981.3L1035.0 975.4L1035.5 979.4L1036.0 974.5L1036.5 980.9L1037.0 979.4L1037.5 986.2L1038.0 982.3L1038.5 987.8L1039.0 981.1L1039.5 987.8L1040.0 979.1L1040.5 984.2L1041.0 978.3L1041.5 983.1L1042.0 980.9L1042.5 980.3L1043.0 979.1L1043.5 981.0L1044.0 980.8L1044.5 981.7L1045.0 982.0L1045.5 984.1L1046.0 979.8L1046.5 984.4L1047.0 977.2L1047.5 982.5L1048.0 976.0L1048.5 979.5L1049.0 981.6L1049.5 994.0L1050.0 997.9L1050.5 1008.4L1051.0 1002.7L1051.5 1010.1L1052.0 1003.4L1052.5 1006.9L1053.0 993.8L1053.5 999.3L1054.0 988.2L1054.5 996.6L1055.0 983.9L1055.5 996.9L1056.0 986.7L1056.5 993.6L1057.0 984.8L1057.5 993.2L1058.0 988.3L1058.5 994.8L1059.0 992.0L1059.5 998.1L1060.0 996.0L1060.5 1003.1L1061.0 998.6L1061.5 1009.4L1062.0 1000.2L1062.5 1007.0L1063.0 999.4L1063.5 1007.7L1064.0 998.7L1064.5 1010.9L1065.0 1006.9L1065.5 1017.7L1066.0 1015.9L1066.5 1019.6L1067.0 1018.4L1067.5 1020.6L1068.0 1021.4L1068.5 1023.4L1069.0 1022.1L1069.5 1028.9L1070.0 1025.3L1070.5 1033.3L1071.0 1027.4L1071.5 1039.6L1072.0 1034.6L1072.5 1040.9L1073.0 1040.1L1073.5 1046.1L1074.0 1038.1L1074.5 1048.5L1075.0 1040.7L1075.5 1051.1L1076.0 1046.6L1076.5 1061.1L1077.0 1050.6L1077.5 1065.4L1078.0 1058.4L1078.5 1062.2L1079.0 1056.7L1079.5 1064.7L1080.0 1054.3L1080.5 1063.9L1081.0 1059.4L1081.5 1064.1L1082.0 1062.3L1082.5 1070.7L1083.0 1060.4L1083.5 1070.1L1084.0 1059.9L1084.5 1065.8L1085.0 1058.6L1085.5 1065.9L1086.0 1056.8L1086.5 1067.2L1087.0 1060.9L1087.5 1067.6L1088.0 1058.4L1088.5 1069.2L1089.0 1054.6L1089.5 1069.1L1090.0 1059.3L1090.5 1071.0L1091.0 1067.1L1091.5 1070.3L1092.0 1066.0L1092.5 1073.0L1093.0 1069.3L1093.5 1075.6L1094.0 1068.3L1094.5 1074.5L1095.0 1073.1L1095.5 1079.5L1096.0 1068.6L1096.5 1079.0L1097.0 1067.1L1097.5 1080.8L1098.0 1067.0L1098.5 1080.0L1099.0 1069.6L1099.5 1082.6L1100.0 1070.7L1100.5 1092.0L1101.0 1075.6L1101.5 1082.0L1102.0 1077.0L1102.5 1084.5L1103.0 1073.5L1103.5 1085.2L1104.0 1070.6L1104.5 1080.9L1105.0 1071.8L1105.5 1083.6L1106.0 1073.4L1106.5 1080.5L1107.0 1068.2L1107.5 1078.0L1108.0 1068.8L1108.5 1077.9L1109.0 1076.6L1109.5 1081.0L1110.0 1074.7L1110.5 1078.9L1111.0 1076.9L1111.5 1081.4L1112.0 1079.0L1112.5 1083.6L1113.0 1076.8L1113.5 1082.0L1114.0 1075.3L1114.5 1080.9L1115.0 1074.8L1115.5 1080.4L1116.0 1073.7L1116.5 1082.6L1117.0 1078.6L1117.5 1079.8L1118.0 1076.7L1118.5 1083.4L1119.0 1077.8L1119.5 1082.6L1120.0 1073.1L1120.5 1079.3L1121.0 1070.4L1121.5 1078.7L1122.0 1069.5L1122.5 1075.7L1123.0 1066.0L1123.5 1075.2L1124.0 1063.2L1124.5 1070.8L1125.0 1062.4L1125.5 1072.3L1126.0 1069.2L1126.5 1075.1L1127.0 1069.2L1127.5 1077.6L1128.0 1068.3L1128.5 1082.7L1129.0 1078.4L1129.5 1088.0L1130.0 1083.7L1130.5 1096.5L1131.0 1082.0L1131.5 1094.9L1132.0 1083.6L1132.5 1087.6L1133.0 1081.1L1133.5 1091.5L1134.0 1081.4L1134.5 1090.8L1135.0 1077.7L1135.5 1086.6L1136.0 1080.6L1136.5 1086.1L1137.0 1081.8L1137.5 1092.4L1138.0 1084.2L1138.5 1097.3L1139.0 1082.4L1139.5 1092.1L1140.0 1077.6L1140.5 1099.6L1141.0 1078.8L1141.5 1097.9L1142.0 1083.7L1142.5 1089.2L1143.0 1082.3L1143.5 1090.9L1144.0 1078.0L1144.5 1089.1L1145.0 1080.8L1145.5 1086.4L1146.0 1080.1L1146.5 1085.8L1147.0 1080.1L1147.5 1085.8L1148.0 1079.9L1148.5 1084.6L1149.0 1077.6L1149.5 1079.2L1150.0 1071.8L1150.5 1078.7L1151.0 1074.2L1151.5 1078.4L1152.0 1074.4L1152.5 1082.0L1153.0 1074.9L1153.5 1084.0L1154.0 1072.5L1154.5 1087.2L1155.0 1074.4L1155.5 1086.7L1156.0 1077.2L1156.5 1089.7L1157.0 1081.2L1157.5 1088.4L1158.0 1081.9L1158.5 1089.6L1159.0 1080.3L1159.5 1087.7L1160.0 1081.2L1160.5 1089.9L1161.0 1079.0L1161.5 1092.5L1162.0 1081.3L1162.5 1092.6L1163.0 1082.2L1163.5 1090.7L1164.0 1084.9L1164.5 1093.5L1165.0 1085.9L1165.5 1092.2L1166.0 1088.1L1166.5 1099.6L1167.0 1085.4L1167.5 1096.0L1168.0 1084.4L1168.5 1095.5L1169.0 1082.6L1169.5 1097.8L1170.0 1083.7L1170.5 1090.9L1171.0 1090.2L1171.5 1090.0L1172.0 1087.5L1172.5 1092.6L1173.0 1085.1L1173.5 1092.2L1174.0 1081.8L1174.5 1091.8L1175.0 1088.2L1175.5 1090.5L1176.0 1086.7L1176.5 1093.7L1177.0 1083.7L1177.5 1095.0L1178.0 1084.3L1178.5 1095.6L1179.0 1083.3L1179.5 1103.4L1180.0 1090.3L1180.5 1103.2L1181.0 1089.4L1181.5 1093.8L1182.0 1085.2L1182.5 1092.9L1183.0 1082.5L1183.5 1092.9L1184.0 1081.5L1184.5 1089.5L1185.0 1082.5L1185.5 1089.5L1186.0 1084.7L1186.5 1093.2L1187.0 1085.9L1187.5 1091.5L1188.0 1088.7L1188.5 1089.9L1189.0 1088.7L1189.5 1090.0L1190.0 1088.4L1190.5 1091.8L1191.0 1085.1L1191.5 1097.0L1192.0 1085.0L1192.5 1097.5L1193.0 1087.5L1193.5 1096.7L1194.0 1089.9L1194.5 1099.5L1195.0 1089.7L1195.5 1097.8L1196.0 1088.4L1196.5 1098.7L1197.0 1095.6L1197.5 1097.4L1198.0 1092.8L1198.5 1100.5L1199.0 1091.8L1199.5 1098.7L1200.0 1089.7L1200.5 1101.5L1201.0 1093.5L1201.5 1096.4L1202.0 1085.6L1202.5 1094.8L1203.0 1083.9L1203.5 1095.0L1204.0 1085.8L1204.5 1090.4L1205.0 1086.7L1205.5 1091.0L1206.0 1089.5L1206.5 1094.3L1207.0 1084.6L1207.5 1094.6L1208.0 1085.8L1208.5 1095.8L1209.0 1085.2L1209.5 1091.7L1210.0 1083.0L1210.5 1088.4L1211.0 1085.1L1211.5 1092.5L1212.0 1082.3L1212.5 1092.7L1213.0 1086.3L1213.5 1093.7L1214.0 1089.0L1214.5 1092.3L1215.0 1084.2L1215.5 1090.9L1216.0 1083.4L1216.5 1092.8L1217.0 1085.0L1217.5 1091.7L1218.0 1087.2L1218.5 1094.3L1219.0 1089.3L1219.5 1097.6L1220.0 1089.4L1220.5 1092.6L1221.0 1089.7L1221.5 1095.7L1222.0 1087.2L1222.5 1094.7L1223.0 1087.8L1223.5 1093.5L1224.0 1086.6L1224.5 1096.4L1225.0 1087.4L1225.5 1096.7L1226.0 1088.3L1226.5 1097.3L1227.0 1089.0L1227.5 1094.5L1228.0 1090.8L1228.5 1095.0L1229.0 1092.8L1229.5 1093.7L1230.0 1089.1L1230.5 1095.3L1231.0 1089.9L1231.5 1093.5L1232.0 1090.7L1232.5 1093.4L1233.0 1087.1L1233.5 1093.3L1234.0 1083.9L1234.5 1105.0L1235.0 1086.2L1235.5 1094.7L1236.0 1087.6L1236.5 1095.8L1237.0 1085.8L1237.5 1096.2L1238.0 1084.8L1238.5 1095.5L1239.0 1085.2L1239.5 1094.0L1240.0 1090.7L1240.5 1091.7L1241.0 1090.2L1241.5 1099.7L1242.0 1087.0L1242.5 1102.4L1243.0 1085.1L1243.5 1095.2L1244.0 1084.9L1244.5 1096.3L1245.0 1083.2L1245.5 1097.8L1246.0 1085.8L1246.5 1093.2L1247.0 1084.3L1247.5 1094.7L1248.0 1085.1L1248.5 1095.5L1249.0 1083.0L1249.5 1102.4L1250.0 1082.9L1250.5 1104.5L1251.0 1085.6L1251.5 1095.9L1252.0 1085.3L1252.5 1096.9L1253.0 1089.7L1253.5 1096.8L1254.0 1086.9L1254.5 1097.9L1255.0 1088.7L1255.5 1098.1L1256.0 1089.6L1256.5 1098.6L1257.0 1090.0L1257.5 1102.7L1258.0 1096.0L1258.5 1109.1L1259.0 1096.5L1259.5 1105.3L1260.0 1096.9L1260.5 1099.7L1261.0 1095.9L1261.5 1100.2L1262.0 1097.3L1262.5 1103.2L1263.0 1097.8L1263.5 1099.2L1264.0 1096.3L1264.5 1100.4L1265.0 1094.7L1265.5 1100.7L1266.0 1092.3L1266.5 1104.6L1267.0 1093.1L1267.5 1099.0L1268.0 1091.2L1268.5 1095.7L1269.0 1086.9L1269.5 1094.1L1270.0 1089.0L1270.5 1095.4L1271.0 1090.8L1271.5 1096.1L1272.0 1088.1L1272.5 1099.0L1273.0 1088.9L1273.5 1099.4L1274.0 1088.7L1274.5 1102.0L1275.0 1085.3L1275.5 1100.4L1276.0 1089.8L1276.5 1100.2L1277.0 1095.9L1277.5 1101.6L1278.0 1092.1L1278.5 1101.0L1279.0 1092.9L1279.5 1103.8L1280.0 1093.9L1280.5 1104.2L1281.0 1096.0L1281.5 1105.4L1282.0 1100.2L1282.5 1105.3L1283.0 1097.2L1283.5 1102.9L1284.0 1091.6L1284.5 1099.7L1285.0 1094.4L1285.5 1102.3L1286.0 1096.9L1286.5 1098.7L1287.0 1089.1L1287.5 1098.0L1288.0 1091.0L1288.5 1095.8L1289.0 1088.8L1289.5 1094.8L1290.0 1091.2L1290.5 1096.5L1291.0 1094.0L1291.5 1097.4L1292.0 1092.5L1292.5 1096.4L1293.0 1087.7L1293.5 1094.9L1294.0 1087.4L1294.5 1093.8L1295.0 1083.0L1295.5 1092.4L1296.0 1085.6L1296.5 1093.2L1297.0 1088.9L1297.5 1093.0L1298.0 1088.1L1298.5 1093.7L1299.0 1087.9L1299.5 1095.5L1300.0 1087.3L1300.5 1095.0L1301.0 1085.4L1301.5 1094.6L1302.0 1087.0L1302.5 1093.6L1303.0 1087.7L1303.5 1095.1L1304.0 1084.6L1304.5 1088.1L1305.0 1083.4L1305.5 1089.1L1306.0 1086.6L1306.5 1088.8L1307.0 1083.4L1307.5 1088.7L1308.0 1084.7L1308.5 1087.0L1309.0 1084.7L1309.5 1088.2L1310.0 1081.3L1310.5 1089.4L1311.0 1087.8L1311.5 1089.7L1312.0 1084.8L1312.5 1094.2L1313.0 1077.6L1313.5 1097.1L1314.0 1085.1L1314.5 1095.0L1315.0 1088.4L1315.5 1093.8L1316.0 1088.8L1316.5 1099.5L1317.0 1089.2L1317.5 1103.8L1318.0 1090.3L1318.5 1099.7L1319.0 1090.1L1319.5 1099.3L1320.0 1094.5L1320.5 1101.9L1321.0 1091.3L1321.5 1103.2L1322.0 1099.3L1322.5 1104.9L1323.0 1097.2L1323.5 1103.5L1324.0 1095.7L1324.5 1099.8L1325.0 1093.6L1325.5 1099.5L1326.0 1096.4L1326.5 1104.5L1327.0 1096.8L1327.5 1102.5L1328.0 1095.6L1328.5 1104.2L1329.0 1093.8L1329.5 1101.1L1330.0 1092.3L1330.5 1103.6L1331.0 1096.5L1331.5 1107.9L1332.0 1092.7L1332.5 1105.4L1333.0 1095.9L1333.5 1102.0L1334.0 1097.3L1334.5 1104.0L1335.0 1101.5L1335.5 1104.8L1336.0 1097.1L1336.5 1104.0L1337.0 1092.2L1337.5 1105.0L1338.0 1094.2L1338.5 1108.0L1339.0 1097.7L1339.5 1107.8L1340.0 1100.6L1340.5 1109.4L1341.0 1098.8L1341.5 1118.9L1342.0 1104.5L1342.5 1110.6L1343.0 1102.3L1343.5 1110.8L1344.0 1102.1L1344.5 1111.6L1345.0 1106.4L1345.5 1111.8L1346.0 1108.3L1346.5 1114.6L1347.0 1106.8L1347.5 1114.7L1348.0 1107.5L1348.5 1113.2L1349.0 1107.9L1349.5 1113.1L1350.0 1110.0L1350.5 1124.0L1351.0 1109.7L1351.5 1123.5L1352.0 1107.9L1352.5 1114.7L1353.0 1104.9L1353.5 1114.3L1354.0 1107.9L1354.5 1115.2L1355.0 1107.7L1355.5 1121.2L1356.0 1113.4L1356.5 1121.1L1357.0 1107.6L1357.5 1114.9L1358.0 1110.1L1358.5 1114.5L1359.0 1106.9L1359.5 1115.4L1360.0 1112.4L1360.5 1116.8L1361.0 1113.4L1361.5 1117.3L1362.0 1113.0L1362.5 1120.3L1363.0 1109.7L1363.5 1116.4L1364.0 1107.1L1364.5 1118.9L1365.0 1106.0L1365.5 1116.8L1366.0 1102.7L1366.5 1112.1L1367.0 1103.3L1367.5 1110.7L1368.0 1101.3L1368.5 1107.7L1369.0 1099.3L1369.5 1106.6L1370.0 1104.5L1370.5 1107.5L1371.0 1102.3L1371.5 1117.5L1372.0 1103.3L1372.5 1108.4L1373.0 1104.6L1373.5 1109.2L1374.0 1105.4L1374.5 1110.4L1375.0 1103.7L1375.5 1111.4L1376.0 1103.7L1376.5 1113.5L1377.0 1103.8L1377.5 1114.6L1378.0 1105.5L1378.5 1113.9L1379.0 1105.0L1379.5 1113.8L1380.0 1105.6L1380.5 1112.7L1381.0 1106.3L1381.5 1116.1L1382.0 1109.1L1382.5 1117.1L1383.0 1109.6L1383.5 1115.5L1384.0 1103.6L1384.5 1118.9L1385.0 1109.3L1385.5 1115.0L1386.0 1109.7L1386.5 1117.8L1387.0 1107.4L1387.5 1113.2L1388.0 1107.6L1388.5 1116.4L1389.0 1109.6L1389.5 1119.7L1390.0 1111.4L1390.5 1115.8L1391.0 1106.5L1391.5 1113.8L1392.0 1111.3L1392.5 1113.2L1393.0 1110.8L1393.5 1112.9L1394.0 1108.9L1394.5 1114.3L1395.0 1108.9L1395.5 1113.9L1396.0 1106.2L1396.5 1111.8L1397.0 1107.4L1397.5 1113.1L1398.0 1103.3L1398.5 1116.3L1399.0 1108.3L1399.5 1115.2L1400.0 1104.0L1400.5 1109.3L1401.0 1098.1L1401.5 1113.6L1402.0 1100.0L1402.5 1111.1L1403.0 1104.2L1403.5 1110.7L1404.0 1104.1L1404.5 1116.8L1405.0 1103.0L1405.5 1113.7L1406.0 1106.2L1406.5 1113.9L1407.0 1110.1L1407.5 1117.3L1408.0 1109.7L1408.5 1117.1L1409.0 1109.5L1409.5 1113.6L1410.0 1113.7L1410.5 1116.5L1411.0 1113.3L1411.5 1116.4L1412.0 1108.3L1412.5 1117.3L1413.0 1105.5L1413.5 1117.9L1414.0 1110.8L1414.5 1120.3L1415.0 1108.3L1415.5 1120.3L1416.0 1112.1L1416.5 1123.2L1417.0 1113.0L1417.5 1118.8L1418.0 1116.8L1418.5 1116.5L1419.0 1114.8L1419.5 1117.4L1420.0 1114.3L1420.5 1119.1L1421.0 1107.0L1421.5 1124.9L1422.0 1104.6L1422.5 1115.0L1423.0 1107.3L1423.5 1117.3L1424.0 1110.9L1424.5 1117.9L1425.0 1111.1L1425.5 1116.2L1426.0 1113.3L1426.5 1115.6L1427.0 1113.3L1427.5 1118.5L1428.0 1111.7L1428.5 1127.8L1429.0 1115.1L1429.5 1120.1L1430.0 1115.6L1430.5 1121.2L1431.0 1114.5L1431.5 1124.8L1432.0 1113.2L1432.5 1124.7L1433.0 1117.8L1433.5 1129.4L1434.0 1117.6L1434.5 1122.7L1435.0 1113.2L1435.5 1124.6L1436.0 1111.8L1436.5 1124.6L1437.0 1114.4L1437.5 1125.9L1438.0 1118.1L1438.5 1127.9L1439.0 1116.7L1439.5 1128.6L1440.0 1118.0L1440.5 1127.3L1441.0 1122.8L1441.5 1134.7L1442.0 1120.4L1442.5 1134.7L1443.0 1118.3L1443.5 1128.8L1444.0 1117.2L1444.5 1132.2L1445.0 1118.9L1445.5 1131.1L1446.0 1123.3L1446.5 1127.2L1447.0 1119.6L1447.5 1127.3L1448.0 1119.2L1448.5 1128.6L1449.0 1121.2L1449.5 1125.2L1450.0 1120.9L1450.5 1125.9L1451.0 1124.4L1451.5 1128.3L1452.0 1128.6L1452.5 1131.3L1453.0 1125.6L1453.5 1132.3L1454.0 1133.0L1454.5 1137.1L1455.0 1132.0L1455.5 1136.8L1456.0 1133.6L1456.5 1139.2L1457.0 1131.4L1457.5 1154.5L1458.0 1133.3L1458.5 1145.1L1459.0 1132.7L1459.5 1146.1L1460.0 1135.6L1460.5 1144.7L1461.0 1136.1L1461.5 1144.1L1462.0 1141.1L1462.5 1148.5L1463.0 1140.2L1463.5 1149.7L1464.0 1141.8L1464.5 1149.3L1465.0 1145.6L1465.5 1148.5L1466.0 1140.9L1466.5 1149.2L1467.0 1143.7L1467.5 1151.2L1468.0 1145.0L1468.5 1157.0L1469.0 1149.6L1469.5 1154.4L1470.0 1150.5L1470.5 1150.7L1471.0 1150.3L1471.5 1151.0L1472.0 1149.1L1472.5 1159.3L1473.0 1151.7L1473.5 1162.1L1474.0 1151.9L1474.5 1164.3L1475.0 1150.7L1475.5 1159.6L1476.0 1151.5L1476.5 1159.2L1477.0 1148.9L1477.5 1156.2L1478.0 1144.4L1478.5 1153.2L1479.0 1143.6L1479.5 1154.2L1480.0 1145.7L1480.5 1152.9L1481.0 1148.5L1481.5 1154.8L1482.0 1144.3L1482.5 1154.8L1483.0 1147.0L1483.5 1156.2L1484.0 1145.8L1484.5 1158.5L1485.0 1149.3L1485.5 1160.2L1486.0 1150.4L1486.5 1160.0L1487.0 1153.9L1487.5 1160.1L1488.0 1155.8L1488.5 1160.9L1489.0 1154.0L1489.5 1159.2L1490.0 1154.2L1490.5 1160.0L1491.0 1152.4L1491.5 1159.8L1492.0 1149.8L1492.5 1160.7L1493.0 1149.6L1493.5 1157.4L1494.0 1150.5L1494.5 1156.2L1495.0 1147.4L1495.5 1156.6L1496.0 1148.5L1496.5 1157.8L1497.0 1150.7L1497.5 1160.9L1498.0 1148.1L1498.5 1162.0L1499.0 1154.8L1499.5 1162.4L1500.0 1157.9L1500.5 1162.0L1501.0 1155.7L1501.5 1162.6L1502.0 1157.0L1502.5 1162.0L1503.0 1158.3L1503.5 1167.2L1504.0 1155.8L1504.5 1173.8L1505.0 1158.5L1505.5 1164.2L1506.0 1159.1L1506.5 1166.6L1507.0 1158.8L1507.5 1165.4L1508.0 1158.7L1508.5 1166.7L1509.0 1158.8L1509.5 1165.5L1510.0 1159.9L1510.5 1167.9L1511.0 1157.7L1511.5 1168.3L1512.0 1158.9L1512.5 1168.6L1513.0 1162.7L1513.5 1167.5L1514.0 1164.8L1514.5 1166.6L1515.0 1160.9L1515.5 1169.3L1516.0 1158.9L1516.5 1167.8L1517.0 1162.7L1517.5 1168.1L1518.0 1155.5L1518.5 1172.2L1519.0 1162.6L1519.5 1172.0L1520.0 1164.1L1520.5 1172.5L1521.0 1163.7L1521.5 1166.7L1522.0 1165.3L1522.5 1169.4L1523.0 1164.9L1523.5 1173.0L1524.0 1162.7L1524.5 1171.1L1525.0 1166.3L1525.5 1170.3L1526.0 1162.8L1526.5 1170.0L1527.0 1160.2L1527.5 1170.1L1528.0 1162.0L1528.5 1166.0L1529.0 1160.8L1529.5 1168.5L1530.0 1161.3L1530.5 1170.8L1531.0 1162.6L1531.5 1170.1L1532.0 1163.7L1532.5 1168.4L1533.0 1163.7L1533.5 1170.6L1534.0 1159.6L1534.5 1169.9L1535.0 1158.9L1535.5 1171.1L1536.0 1162.6L1536.5 1173.1L1537.0 1162.5L1537.5 1169.3L1538.0 1160.0L1538.5 1172.9L1539.0 1162.0L1539.5 1173.3L1540.0 1166.5L1540.5 1172.1L1541.0 1165.8L1541.5 1176.6L1542.0 1166.8L1542.5 1176.3L1543.0 1166.1L1543.5 1173.1L1544.0 1165.9L1544.5 1171.1L1545.0 1165.5L1545.5 1173.7L1546.0 1162.4L1546.5 1174.9L1547.0 1159.6L1547.5 1176.6L1548.0 1163.7L1548.5 1172.7L1549.0 1161.2L1549.5 1169.0L1550.0 1161.8L1550.5 1169.9L1551.0 1166.0L1551.5 1174.1L1552.0 1167.9L1552.5 1172.3L1553.0 1171.2L1553.5 1173.5L1554.0 1168.1L1554.5 1177.1L1555.0 1165.5L1555.5 1178.1L1556.0 1168.7L1556.5 1175.9L1557.0 1169.5L1557.5 1176.7L1558.0 1167.7L1558.5 1177.5L1559.0 1163.2L1559.5 1174.9L1560.0 1166.4L1560.5 1170.7L1561.0 1119.6L1561.5 1133.4L1562.0 1125.1L1562.5 1135.3L1563.0 1127.3L1563.5 1133.4L1564.0 1126.1L1564.5 1130.3L1565.0 1125.4L1565.5 1132.0L1566.0 1126.8L1566.5 1129.8L1567.0 1125.3L1567.5 1128.8L1568.0 1127.8L1568.5 1132.7L1569.0 1129.2L1569.5 1134.6L1570.0 1128.2L1570.5 1136.2L1571.0 1122.5L1571.5 1139.0L1572.0 1122.5L1572.5 1133.2L1573.0 1124.6L1573.5 1137.0L1574.0 1122.2L1574.5 1134.7L1575.0 1125.4L1575.5 1132.2L1576.0 1122.9L1576.5 1135.9L1577.0 1124.1L1577.5 1129.9L1578.0 1124.4L1578.5 1133.6L1579.0 1129.2L1579.5 1135.6L1580.0 1127.1L1580.5 1140.9L1581.0 1128.0L1581.5 1138.9L1582.0 1130.5L1582.5 1134.1L1583.0 1127.3L1583.5 1132.3L1584.0 1121.6L1584.5 1131.9L1585.0 1126.6L1585.5 1132.9L1586.0 1122.5L1586.5 1134.7L1587.0 1123.2L1587.5 1135.3L1588.0 1123.6L1588.5 1136.8L1589.0 1125.5L1589.5 1137.8L1590.0 1131.7L1590.5 1134.0L1591.0 1127.9L1591.5 1133.4L1592.0 1128.3L1592.5 1137.6L1593.0 1125.8L1593.5 1136.4L1594.0 1128.7L1594.5 1141.3L1595.0 1125.1L1595.5 1144.6L1596.0 1125.0L1596.5 1137.9L1597.0 1128.1L1597.5 1135.7L1598.0 1127.1L1598.5 1133.7L1599.0 1128.2L1599.5 1146.8L1600.0 1127.6L1600.5 1137.8L1601.0 1127.5L1601.5 1133.0L1602.0 1124.8L1602.5 1134.9L1603.0 1127.1L1603.5 1133.7L1604.0 1130.9L1604.5 1137.3L1605.0 1127.4L1605.5 1135.2L1606.0 1128.1L1606.5 1133.6L1607.0 1128.8L1607.5 1133.3L1608.0 1125.0L1608.5 1132.7L1609.0 1129.1L1609.5 1130.3L1610.0 1127.0L1610.5 1133.8L1611.0 1128.4L1611.5 1131.8L1612.0 1123.3L1612.5 1129.3L1613.0 1127.9L1613.5 1131.4L1614.0 1124.2L1614.5 1131.7L1615.0 1124.8L1615.5 1126.4L1616.0 1124.4L1616.5 1126.9L1617.0 1122.0L1617.5 1126.5L1618.0 1123.7L1618.5 1129.6L1619.0 1123.7L1619.5 1127.0L1620.0 1122.9L1620.5 1128.4L1621.0 1122.9L1621.5 1130.1L1622.0 1117.1L1622.5 1128.0L1623.0 1115.3L1623.5 1129.3L1624.0 1119.4L1624.5 1131.0L1625.0 1124.0L1625.5 1128.5L1626.0 1117.2L1626.5 1133.4L1627.0 1113.7L1627.5 1128.0L1628.0 1119.5L1628.5 1127.1L1629.0 1120.7L1629.5 1124.7L1630.0 1120.0L1630.5 1125.6L1631.0 1117.7L1631.5 1124.6L1632.0 1121.1L1632.5 1126.5L1633.0 1119.6L1633.5 1125.6L1634.0 1118.4L1634.5 1122.1L1635.0 1115.0L1635.5 1124.8L1636.0 1111.0L1636.5 1118.8L1637.0 1116.0L1637.5 1122.6L1638.0 1114.7L1638.5 1123.1L1639.0 1111.9L1639.5 1122.7L1640.0 1109.8L1640.5 1123.4L1641.0 1110.8L1641.5 1117.7L1642.0 1114.1L1642.5 1117.2L1643.0 1115.4L1643.5 1121.0L1644.0 1116.8L1644.5 1120.7L1645.0 1111.9L1645.5 1119.7L1646.0 1111.9L1646.5 1118.5L1647.0 1115.0L1647.5 1116.0L1648.0 1114.4L1648.5 1117.3L1649.0 1112.6L1649.5 1117.3L1650.0 1104.8L1650.5 1117.7L1651.0 1104.9L1651.5 1115.4L1652.0 1110.1L1652.5 1113.9L1653.0 1108.9L1653.5 1115.8L1654.0 1107.4L1654.5 1116.5L1655.0 1106.1L1655.5 1116.7L1656.0 1108.7L1656.5 1114.4L1657.0 1112.0L1657.5 1116.1L1658.0 1106.9L1658.5 1118.1L1659.0 1107.7L1659.5 1119.0L1660.0 1109.9L1660.5 1113.0L1661.0 1108.2L1661.5 1114.2L1662.0 1105.5L1662.5 1109.2L1663.0 1099.6L1663.5 1110.7L1664.0 1100.7L1664.5 1112.1L1665.0 1103.0L1665.5 1108.0L1666.0 1098.3L1666.5 1109.8L1667.0 1097.9L1667.5 1110.9L1668.0 1095.7L1668.5 1108.5L1669.0 1096.1L1669.5 1106.7L1670.0 1101.4L1670.5 1107.4L1671.0 1098.2L1671.5 1113.8L1672.0 1096.3L1672.5 1106.9L1673.0 1100.2L1673.5 1107.7L1674.0 1101.7L1674.5 1105.9L1675.0 1101.2L1675.5 1106.9L1676.0 1097.6L1676.5 1107.2L1677.0 1097.7L1677.5 1106.0L1678.0 1100.0L1678.5 1103.8L1679.0 1097.0L1679.5 1105.3L1680.0 1098.9L1680.5 1103.9L1681.0 1098.8L1681.5 1102.3L1682.0 1095.4L1682.5 1101.7L1683.0 1094.4L1683.5 1103.6L1684.0 1093.2L1684.5 1100.8L1685.0 1094.4L1685.5 1103.2L1686.0 1091.4L1686.5 1105.4L1687.0 1090.4L1687.5 1099.1L1688.0 1090.9L1688.5 1096.1L1689.0 1092.4L1689.5 1101.6L1690.0 1090.5L1690.5 1096.2L1691.0 1088.4L1691.5 1093.8L1692.0 1086.4L1692.5 1092.9L1693.0 1085.7L1693.5 1092.3L1694.0 1087.4L1694.5 1091.5L1695.0 1088.3L1695.5 1090.4L1696.0 1087.6L1696.5 1090.1L1697.0 1086.1L1697.5 1088.7L1698.0 1084.1L1698.5 1086.2L1699.0 1078.5L1699.5 1085.9L1700.0 1077.1L1700.5 1086.1L1701.0 1081.8L1701.5 1085.2L1702.0 1082.3L1702.5 1087.5L1703.0 1080.8L1703.5 1086.6L1704.0 1076.2L1704.5 1085.0L1705.0 1077.2L1705.5 1085.3L1706.0 1079.3L1706.5 1082.2L1707.0 1078.6L1707.5 1081.0L1708.0 1077.2L1708.5 1080.9L1709.0 1074.3L1709.5 1079.0L1710.0 1070.4L1710.5 1075.7L1711.0 1071.4L1711.5 1075.0L1712.0 1070.7L1712.5 1072.7L1711.1 1069.2L1716.0 1070.9L1713.3 1066.9L1717.4 1068.0L1715.5 1064.6L1719.3 1065.3L1717.4 1062.6L1720.9 1062.5L1718.2 1060.1L1721.3 1059.8L1718.8 1057.4L1722.7 1057.4L1719.7 1054.9L1723.3 1054.9L1721.2 1052.4L1724.1 1052.3L1721.8 1049.7L1725.7 1050.0L1723.3 1047.3L1727.1 1047.6L1724.5 1044.8L1728.3 1045.0L1726.0 1042.5L1729.0 1042.3L1726.8 1040.0L1729.9 1039.7L1728.5 1037.8L1731.5 1037.5L1729.4 1035.2L1731.7 1034.7L1730.5 1032.8L1732.8 1032.3L1730.7 1029.9L1733.9 1029.8L1732.4 1027.7L1735.3 1027.4L1733.1 1025.1L1736.0 1024.8L1734.6 1022.7L1737.1 1022.3L1735.4 1020.4L1737.8 1019.5L1736.0 1017.9L1738.6 1017.1L1736.2 1015.4L1738.8 1014.6L1737.2 1013.0L1739.0 1012.0L1737.5 1010.4L1739.5 1009.5L1737.9 1007.9L1740.1 1007.0L1738.2 1005.4L1740.6 1004.5L1738.6 1002.9L1740.5 1001.9L1739.1 1000.4L1741.0 999.5L1739.7 997.9L1741.6 997.0L1740.0 995.4L1742.2 994.5L1740.1 992.9L1742.6 992.0L1740.8 990.4L1743.0 989.5L1741.3 988.0L1743.1 987.0L1741.8 985.4L1743.5 984.5L1741.8 982.8L1744.3 982.0L1743.1 980.5L1744.8 979.5L1743.6 978.0L1745.3 977.0L1744.1 975.5L1745.8 974.5L1744.6 973.0L1746.1 972.0L1745.2 970.5L1746.6 969.4L1745.3 968.0L1747.1 967.0L1745.8 965.5L1747.3 964.4L1746.1 963.0L1747.9 962.0L1746.8 960.5L1747.9 959.4L1747.0 958.0L1748.4 956.9L1747.5 955.5L1748.8 954.4L1747.9 953.0L1749.3 951.9L1748.2 950.5L1749.5 949.4L1747.8 947.9L1749.8 946.9L1748.7 945.5L1750.1 944.4L1749.3 943.0L1750.2 941.9L1749.6 940.5L1750.5 939.4L1749.8 938.0L1751.0 936.9L1750.1 935.5L1751.7 934.4L1750.6 933.1L1751.7 931.9L1750.4 930.5L1751.8 929.4L1751.0 928.1L1751.9 926.9L1751.3 925.6L1752.1 924.4L1751.4 923.1L1752.1 921.9L1751.5 920.6L1752.4 919.4L1751.6 918.1L1753.1 916.9L1751.9 915.6L1752.9 914.4L1752.1 913.1L1753.0 911.9L1752.2 910.6L1753.2 909.4L1752.5 908.1L1753.6 906.9L1752.9 905.6L1753.5 904.4L1753.0 903.0L1754.0 901.9L1753.6 900.6L1754.2 899.4L1753.5 898.0L1754.6 896.9L1754.1 895.6L1754.9 894.4L1754.4 893.1L1755.1 891.9L1754.7 890.5L1755.5 889.4L1755.2 888.1L1755.9 886.9L1755.4 885.6L1756.2 884.4L1755.8 883.1L1756.3 881.9L1755.9 880.6L1756.6 879.4L1756.2 878.1L1756.8 876.9L1756.4 875.6L1757.1 874.4L1756.8 873.1L1757.7 871.9L1757.0 870.6L1757.6 869.4L1757.2 868.1L1757.8 866.9L1757.5 865.6L1758.1 864.4L1757.8 863.1L1758.3 861.9L1758.1 860.6L1758.7 859.4L1758.0 858.0L1758.8 856.9L1758.5 855.6L1759.0 854.4L1758.8 853.1L1759.3 851.9L1759.1 850.6L1759.5 849.4L1759.3 848.1L1759.7 846.9L1759.5 845.6L1760.3 844.4L1759.8 843.1L1760.3 841.9L1760.0 840.6L1760.5 839.4L1760.3 838.1L1760.8 836.9L1760.6 835.6L1761.0 834.4L1760.8 833.1L1761.3 831.9L1761.1 830.6L1761.5 829.4L1761.3 828.1L1761.8 826.9L1761.6 825.6L1762.0 824.4L1761.8 823.1L1762.2 821.9L1762.1 820.6L1762.5 819.4L1762.4 818.1L1762.7 816.9L1762.6 815.6L1762.9 814.3L1762.9 813.1L1763.2 811.8L1763.1 810.6L1763.5 809.4L1763.4 808.1L1763.7 806.8L1763.6 805.6L1763.9 804.3L1763.8 803.1L1764.1 801.8L1764.0 800.6L1764.3 799.3L1764.2 798.1L1764.5 796.8L1764.5 795.6L1764.8 794.3L1764.7 793.1L1765.0 791.8L1764.9 790.6L1765.1 789.3L1765.1 788.1L1765.3 786.8L1765.3 785.6L1765.6 784.3L1765.5 783.1L1765.8 781.8L1765.8 780.6L1766.0 779.3L1766.0 778.1L1766.2 776.8L1766.2 775.6L1766.5 774.3L1766.5 773.1L1766.7 771.8L1766.7 770.6L1766.9 769.3L1766.9 768.1L1767.1 766.8L1767.1 765.6L1767.3 764.3L1767.4 763.1L1767.6 761.8L1767.6 760.6L1786.0 509.5L1794.5 400.0L1805.0 260.0L1808.8 217.5L1812.5 185.0L1815.6 160.0L1818.8 142.5L1822.5 130.0L1826.2 122.5L1830.0 117.5L1835.0 115.0L1842.5 114.0L1860.5 113.5"/>
</g>
<rect x="300.3" y="1018.1" width="320.6" height="138.4" rx="8" ry="8" fill="#fff" fill-opacity="0.8" stroke="#cccccc" stroke-opacity="0.8" stroke-width="4.1"/>
<path d="M316 1054.1H401" stroke="#ff0000" stroke-width="2.2"/>
<path d="M316 1116.1H401" stroke="#000" stroke-width="2.2"/>
<text x="433.2" y="1068.7" font-size="45" textLength="98.5" lengthAdjust="spacingAndGlyphs">Peak</text>
<text x="434.2" y="1131" font-size="45" textLength="170" lengthAdjust="spacingAndGlyphs">Average</text>
<rect x="280.5" y="112.5" width="1580.0" height="1065.0" fill="none" stroke="#000" stroke-width="3.0"/>
<g stroke="#000" fill="none">
<path d="M388.5 1179.0v14" stroke-width="3"/>
<path d="M527.5 1179.0v14" stroke-width="3"/>
<path d="M667.5 1179.0v14" stroke-width="3"/>
<path d="M806.5 1179.0v14" stroke-width="3"/>
<path d="M945.5 1179.0v14" stroke-width="3"/>
<path d="M1084.5 1179.0v14" stroke-width="3"/>
<path d="M1223.5 1179.0v14" stroke-width="3"/>
<path d="M1362.5 1179.0v14" stroke-width="3"/>
<path d="M1501.5 1179.0v14" stroke-width="3"/>
<path d="M1640.5 1179.0v14" stroke-width="3"/>
<path d="M1779.5 1179.0v14" stroke-width="3"/>
<path d="M279.0 509.5h-14" stroke-width="3"/>
<path d="M279.0 185.5h-7.3" stroke-width="2.6"/>
<path d="M279.0 558.5h-7.3" stroke-width="2.6"/>
<path d="M279.0 613.5h-7.3" stroke-width="2.6"/>
<path d="M279.0 675.5h-7.3" stroke-width="2.6"/>
<path d="M279.0 747.5h-7.3" stroke-width="2.6"/>
<path d="M279.0 832.5h-7.3" stroke-width="2.6"/>
<path d="M279.0 936.5h-7.3" stroke-width="2.6"/>
<path d="M279.0 1070.5h-7.3" stroke-width="2.6"/>
</g>
<text x="109.4" y="201.7" font-size="46.6" textLength="24.6" lengthAdjust="spacingAndGlyphs">2</text>
<path d="M150.6 177.4l20.2 20.6m0 -20.6l-20.2 20.6" stroke="#000" stroke-width="3.6" fill="none"/>
<text x="186" y="201.7" font-size="46.6" textLength="53.5" lengthAdjust="spacingAndGlyphs">10</text>
<text x="239.6" y="185.5" font-size="31.4" textLength="17.5" lengthAdjust="spacingAndGlyphs">8</text>
<text x="179.7" y="525.0" font-size="46.6" textLength="53.5" lengthAdjust="spacingAndGlyphs">10</text>
<text x="233.3" y="508.8" font-size="31.4" textLength="17.5" lengthAdjust="spacingAndGlyphs">8</text>
<text x="109.4" y="763.7" font-size="46.6" textLength="24.6" lengthAdjust="spacingAndGlyphs">6</text>
<path d="M150.6 739.4l20.2 20.6m0 -20.6l-20.2 20.6" stroke="#000" stroke-width="3.6" fill="none"/>
<text x="186" y="763.7" font-size="46.6" textLength="53.5" lengthAdjust="spacingAndGlyphs">10</text>
<text x="239.6" y="747.5" font-size="31.4" textLength="17.5" lengthAdjust="spacingAndGlyphs">7</text>
<text x="109.4" y="952.7" font-size="46.6" textLength="24.6" lengthAdjust="spacingAndGlyphs">4</text>
<path d="M150.6 928.4l20.2 20.6m0 -20.6l-20.2 20.6" stroke="#000" stroke-width="3.6" fill="none"/>
<text x="186" y="952.7" font-size="46.6" textLength="53.5" lengthAdjust="spacingAndGlyphs">10</text>
<text x="239.6" y="936.5" font-size="31.4" textLength="17.5" lengthAdjust="spacingAndGlyphs">7</text>
<text x="109.4" y="1086.7" font-size="46.6" textLength="24.6" lengthAdjust="spacingAndGlyphs">3</text>
<path d="M150.6 1062.4l20.2 20.6m0 -20.6l-20.2 20.6" stroke="#000" stroke-width="3.6" fill="none"/>
<text x="186" y="1086.7" font-size="46.6" textLength="53.5" lengthAdjust="spacingAndGlyphs">10</text>
<text x="239.6" y="1070.5" font-size="31.4" textLength="17.5" lengthAdjust="spacingAndGlyphs">7</text>
<text transform="translate(386.3 1267.6) rotate(-30)" x="-95.8" y="15.8" font-size="46.6" textLength="188.7" lengthAdjust="spacingAndGlyphs" xml:space="preserve">10-01 18</text>
<text transform="translate(525.3 1267.6) rotate(-30)" x="-95.8" y="15.8" font-size="46.6" textLength="188.7" lengthAdjust="spacingAndGlyphs" xml:space="preserve">10-01 19</text>
<text transform="translate(665.3 1267.6) rotate(-30)" x="-95.8" y="15.8" font-size="46.6" textLength="188.7" lengthAdjust="spacingAndGlyphs" xml:space="preserve">10-01 20</text>
<text transform="translate(804.3 1267.6) rotate(-30)" x="-95.8" y="15.8" font-size="46.6" textLength="188.7" lengthAdjust="spacingAndGlyphs" xml:space="preserve">10-01 21</text>
<text transform="translate(943.3 1267.6) rotate(-30)" x="-95.8" y="15.8" font-size="46.6" textLength="188.7" lengthAdjust="spacingAndGlyphs" xml:space="preserve">10-01 22</text>
<text transform="translate(1082.3 1267.6) rotate(-30)" x="-95.8" y="15.8" font-size="46.6" textLength="188.7" lengthAdjust="spacingAndGlyphs" xml:space="preserve">10-01 23</text>
<text transform="translate(1221.3 1267.6) rotate(-30)" x="-95.8" y="15.8" font-size="46.6" textLength="188.7" lengthAdjust="spacingAndGlyphs" xml:space="preserve">10-02 00</text>
<text transform="translate(1360.3 1267.6) rotate(-30)" x="-95.8" y="15.8" font-size="46.6" textLength="188.7" lengthAdjust="spacingAndGlyphs" xml:space="preserve">10-02 01</text>
<text transform="translate(1499.3 1267.6) rotate(-30)" x="-95.8" y="15.8" font-size="46.6" textLength="188.7" lengthAdjust="spacingAndGlyphs" xml:space="preserve">10-02 02</text>
<text transform="translate(1638.3 1267.6) rotate(-30)" x="-95.8" y="15.8" font-size="46.6" textLength="188.7" lengthAdjust="spacingAndGlyphs" xml:space="preserve">10-02 03</text>
<text transform="translate(1777.3 1267.6) rotate(-30)" x="-95.8" y="15.8" font-size="46.6" textLength="188.7" lengthAdjust="spacingAndGlyphs" xml:space="preserve">10-02 04</text>
<text x="1018.6" y="1386.7" font-size="44.5" textLength="101.8" lengthAdjust="spacingAndGlyphs">Time</text>
<text transform="translate(82.4 647.4) rotate(-90)" x="-44.6" y="0" font-size="45" textLength="89.2" lengthAdjust="spacingAndGlyphs">ADU</text>
<text x="367.2" y="87.4" font-size="52.5" textLength="120.3" lengthAdjust="spacingAndGlyphs">Peak</text>
<text x="501.1" y="87.4" font-size="52.5" textLength="107.9" lengthAdjust="spacingAndGlyphs">field</text>
<text x="625.0" y="87.4" font-size="52.5" textLength="133.3" lengthAdjust="spacingAndGlyphs">sums</text>
<text x="772.3" y="87.4" font-size="52.5" textLength="73.1" lengthAdjust="spacingAndGlyphs">for</text>
<text x="861.3" y="87.4" font-size="52.5" textLength="199.2" lengthAdjust="spacingAndGlyphs">HR001Z</text>
<text x="1086.5" y="87.4" font-size="52.5" textLength="250.6" lengthAdjust="spacingAndGlyphs">20251001</text>
<text x="1366.6" y="87.4" font-size="52.5" textLength="185.9" lengthAdjust="spacingAndGlyphs">171255</text>
<text x="1583.1" y="87.4" font-size="52.5" textLength="187.1" lengthAdjust="spacingAndGlyphs">972297</text>
<rect x="1060.6" y="95.4" width="26.3" height="3.6" fill="#000"/>
<rect x="1340.0" y="95.4" width="26.2" height="3.6" fill="#000"/>
<rect x="1556.6" y="95.4" width="25.8" height="3.6" fill="#000"/>
</svg></body></html>
